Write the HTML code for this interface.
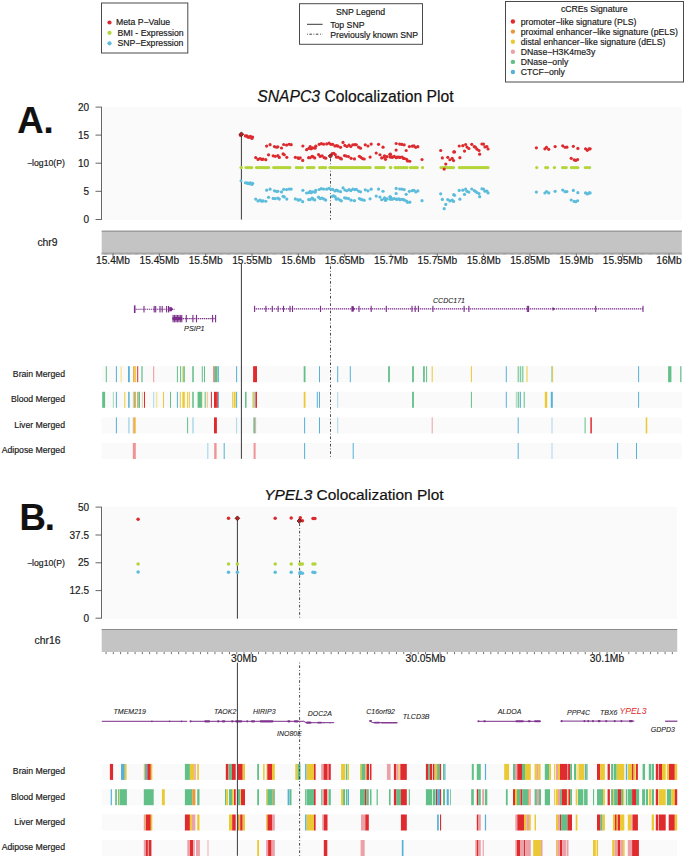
<!DOCTYPE html>
<html><head><meta charset="utf-8"><style>
html,body{margin:0;padding:0;background:#fff;}
svg{display:block;font-family:"Liberation Sans", sans-serif;}
</style></head><body>
<svg width="685" height="857" viewBox="0 0 685 857">
<rect width="685" height="857" fill="#fff"/>
<rect x="101.5" y="3" width="86.3" height="50" fill="none" stroke="#4a4a4a" stroke-width="1"/>
<circle cx="109.50" cy="22.50" r="2.1" fill="#dc2a2e"/>
<text x="116.00" y="24.70" font-size="8.7" text-anchor="start" fill="#1a1a1a" stroke="#1a1a1a" stroke-width="0.18" style="" >Meta P−Value</text>
<circle cx="109.50" cy="32.80" r="2.1" fill="#b4d53a"/>
<text x="117.50" y="36.30" font-size="8.7" text-anchor="start" fill="#1a1a1a" stroke="#1a1a1a" stroke-width="0.18" style="" >BMI - Expression</text>
<circle cx="109.50" cy="43.30" r="2.1" fill="#5cbcdb"/>
<text x="117.50" y="46.40" font-size="8.7" text-anchor="start" fill="#1a1a1a" stroke="#1a1a1a" stroke-width="0.18" style="" >SNP−Expression</text>
<rect x="299.5" y="3.7" width="123" height="40.6" fill="none" stroke="#4a4a4a" stroke-width="1"/>
<text x="360.50" y="14.60" font-size="8.7" text-anchor="middle" fill="#1a1a1a" stroke="#1a1a1a" stroke-width="0.18" style="" >SNP Legend</text>
<line x1="307.00" y1="24.30" x2="322.60" y2="24.30" stroke="#222" stroke-width="0.9" />
<text x="330.20" y="27.50" font-size="8.7" text-anchor="start" fill="#1a1a1a" stroke="#1a1a1a" stroke-width="0.18" style="" >Top SNP</text>
<line x1="307.00" y1="34.20" x2="322.60" y2="34.20" stroke="#222" stroke-width="0.9" stroke-dasharray="0.8 1.6 2.5 1.6"/>
<text x="330.20" y="37.60" font-size="8.7" text-anchor="start" fill="#1a1a1a" stroke="#1a1a1a" stroke-width="0.18" style="" >Previously known SNP</text>
<rect x="505.5" y="1.5" width="178" height="80.5" fill="none" stroke="#4a4a4a" stroke-width="1"/>
<text x="594.20" y="11.70" font-size="8.7" text-anchor="middle" fill="#1a1a1a" stroke="#1a1a1a" stroke-width="0.18" style="" >cCREs Signature</text>
<circle cx="512.90" cy="21.50" r="2.2" fill="#df2a2e"/>
<text x="520.70" y="24.70" font-size="8.7" text-anchor="start" fill="#1a1a1a" stroke="#1a1a1a" stroke-width="0.18" style="" >promoter−like signature (PLS)</text>
<circle cx="512.90" cy="31.60" r="2.2" fill="#e8993a"/>
<text x="520.70" y="34.80" font-size="8.7" text-anchor="start" fill="#1a1a1a" stroke="#1a1a1a" stroke-width="0.18" style="" >proximal enhancer−like signature (pELS)</text>
<circle cx="512.90" cy="41.70" r="2.2" fill="#ebc934"/>
<text x="520.70" y="44.90" font-size="8.7" text-anchor="start" fill="#1a1a1a" stroke="#1a1a1a" stroke-width="0.18" style="" >distal enhancer−like signature (dELS)</text>
<circle cx="512.90" cy="51.80" r="2.2" fill="#eaa2a8"/>
<text x="520.70" y="55.00" font-size="8.7" text-anchor="start" fill="#1a1a1a" stroke="#1a1a1a" stroke-width="0.18" style="" >DNase−H3K4me3y</text>
<circle cx="512.90" cy="61.90" r="2.2" fill="#62bf88"/>
<text x="520.70" y="65.10" font-size="8.7" text-anchor="start" fill="#1a1a1a" stroke="#1a1a1a" stroke-width="0.18" style="" >DNase−only</text>
<circle cx="512.90" cy="72.00" r="2.2" fill="#55b1d9"/>
<text x="520.70" y="75.20" font-size="8.7" text-anchor="start" fill="#1a1a1a" stroke="#1a1a1a" stroke-width="0.18" style="" >CTCF−only</text>
<text x="17.15" y="132.80" font-size="36.5" text-anchor="start" fill="#111" stroke="#111" stroke-width="0.18" style="font-weight:bold;" >A.</text>
<text x="257.3" y="101.7" font-size="15.7" fill="#111" stroke="#111" stroke-width="0.2"><tspan style="font-style:italic">SNAPC3</tspan> Colocalization Plot</text>
<rect x="102.40" y="107.10" width="579.00" height="112.90" fill="#fafafa" />
<line x1="101.50" y1="107.10" x2="101.50" y2="219.50" stroke="#555" stroke-width="0.9" />
<line x1="95.50" y1="107.10" x2="101.90" y2="107.10" stroke="#555" stroke-width="0.9" />
<text x="89.00" y="110.70" font-size="10" text-anchor="end" fill="#1a1a1a" stroke="#1a1a1a" stroke-width="0.18" style="" >20</text>
<line x1="95.50" y1="135.10" x2="101.90" y2="135.10" stroke="#555" stroke-width="0.9" />
<text x="89.00" y="138.70" font-size="10" text-anchor="end" fill="#1a1a1a" stroke="#1a1a1a" stroke-width="0.18" style="" >15</text>
<line x1="95.50" y1="163.20" x2="101.90" y2="163.20" stroke="#555" stroke-width="0.9" />
<text x="89.00" y="166.80" font-size="10" text-anchor="end" fill="#1a1a1a" stroke="#1a1a1a" stroke-width="0.18" style="" >10</text>
<line x1="95.50" y1="191.30" x2="101.90" y2="191.30" stroke="#555" stroke-width="0.9" />
<text x="89.00" y="194.90" font-size="10" text-anchor="end" fill="#1a1a1a" stroke="#1a1a1a" stroke-width="0.18" style="" >5</text>
<line x1="95.50" y1="219.50" x2="101.90" y2="219.50" stroke="#555" stroke-width="0.9" />
<text x="89.00" y="223.10" font-size="10" text-anchor="end" fill="#1a1a1a" stroke="#1a1a1a" stroke-width="0.18" style="" >0</text>
<text x="46.00" y="166.40" font-size="8.7" text-anchor="middle" fill="#1a1a1a" stroke="#1a1a1a" stroke-width="0.18" style="" >−log10(P)</text>
<text x="47.50" y="246.10" font-size="10.4" text-anchor="middle" fill="#1a1a1a" stroke="#1a1a1a" stroke-width="0.18" style="" >chr9</text>
<rect x="101.70" y="230.70" width="580.10" height="22.90" fill="#c4c4c4" />
<line x1="101.70" y1="231.20" x2="681.80" y2="231.20" stroke="#8a8a8a" stroke-width="1" />
<line x1="101.70" y1="253.20" x2="681.80" y2="253.20" stroke="#8c8c8c" stroke-width="0.9" />
<line x1="101.7" y1="254.3" x2="681.8" y2="254.3" stroke="#8a8a8a" stroke-width="1.4" stroke-dasharray="0.55 0.6"/>
<line x1="113.00" y1="253.60" x2="113.00" y2="257.00" stroke="#555" stroke-width="0.8" />
<text x="113.00" y="263.80" font-size="10.2" text-anchor="middle" fill="#1a1a1a" stroke="#1a1a1a" stroke-width="0.18" style="" >15.4Mb</text>
<line x1="159.34" y1="253.60" x2="159.34" y2="257.00" stroke="#555" stroke-width="0.8" />
<text x="159.34" y="263.80" font-size="10.2" text-anchor="middle" fill="#1a1a1a" stroke="#1a1a1a" stroke-width="0.18" style="" >15.45Mb</text>
<line x1="205.67" y1="253.60" x2="205.67" y2="257.00" stroke="#555" stroke-width="0.8" />
<text x="205.67" y="263.80" font-size="10.2" text-anchor="middle" fill="#1a1a1a" stroke="#1a1a1a" stroke-width="0.18" style="" >15.5Mb</text>
<line x1="252.01" y1="253.60" x2="252.01" y2="257.00" stroke="#555" stroke-width="0.8" />
<text x="252.01" y="263.80" font-size="10.2" text-anchor="middle" fill="#1a1a1a" stroke="#1a1a1a" stroke-width="0.18" style="" >15.55Mb</text>
<line x1="298.34" y1="253.60" x2="298.34" y2="257.00" stroke="#555" stroke-width="0.8" />
<text x="298.34" y="263.80" font-size="10.2" text-anchor="middle" fill="#1a1a1a" stroke="#1a1a1a" stroke-width="0.18" style="" >15.6Mb</text>
<line x1="344.68" y1="253.60" x2="344.68" y2="257.00" stroke="#555" stroke-width="0.8" />
<text x="344.68" y="263.80" font-size="10.2" text-anchor="middle" fill="#1a1a1a" stroke="#1a1a1a" stroke-width="0.18" style="" >15.65Mb</text>
<line x1="391.01" y1="253.60" x2="391.01" y2="257.00" stroke="#555" stroke-width="0.8" />
<text x="391.01" y="263.80" font-size="10.2" text-anchor="middle" fill="#1a1a1a" stroke="#1a1a1a" stroke-width="0.18" style="" >15.7Mb</text>
<line x1="437.34" y1="253.60" x2="437.34" y2="257.00" stroke="#555" stroke-width="0.8" />
<text x="437.34" y="263.80" font-size="10.2" text-anchor="middle" fill="#1a1a1a" stroke="#1a1a1a" stroke-width="0.18" style="" >15.75Mb</text>
<line x1="483.68" y1="253.60" x2="483.68" y2="257.00" stroke="#555" stroke-width="0.8" />
<text x="483.68" y="263.80" font-size="10.2" text-anchor="middle" fill="#1a1a1a" stroke="#1a1a1a" stroke-width="0.18" style="" >15.8Mb</text>
<line x1="530.01" y1="253.60" x2="530.01" y2="257.00" stroke="#555" stroke-width="0.8" />
<text x="530.01" y="263.80" font-size="10.2" text-anchor="middle" fill="#1a1a1a" stroke="#1a1a1a" stroke-width="0.18" style="" >15.85Mb</text>
<line x1="576.35" y1="253.60" x2="576.35" y2="257.00" stroke="#555" stroke-width="0.8" />
<text x="576.35" y="263.80" font-size="10.2" text-anchor="middle" fill="#1a1a1a" stroke="#1a1a1a" stroke-width="0.18" style="" >15.9Mb</text>
<line x1="622.69" y1="253.60" x2="622.69" y2="257.00" stroke="#555" stroke-width="0.8" />
<text x="622.69" y="263.80" font-size="10.2" text-anchor="middle" fill="#1a1a1a" stroke="#1a1a1a" stroke-width="0.18" style="" >15.95Mb</text>
<line x1="669.02" y1="253.60" x2="669.02" y2="257.00" stroke="#555" stroke-width="0.8" />
<text x="669.02" y="263.80" font-size="10.2" text-anchor="middle" fill="#1a1a1a" stroke="#1a1a1a" stroke-width="0.18" style="" >16Mb</text>
<text x="19.55" y="529.90" font-size="36.5" text-anchor="start" fill="#111" stroke="#111" stroke-width="0.18" style="font-weight:bold;" letter-spacing="-1.1">B.</text>
<text x="264.2" y="499.8" font-size="15.45" fill="#111" stroke="#111" stroke-width="0.2"><tspan style="font-style:italic">YPEL3</tspan> Colocalization Plot</text>
<rect x="102.40" y="506.80" width="574.60" height="111.90" fill="#fafafa" />
<line x1="101.50" y1="507.10" x2="101.50" y2="618.20" stroke="#555" stroke-width="0.9" />
<line x1="95.50" y1="507.10" x2="101.90" y2="507.10" stroke="#555" stroke-width="0.9" />
<text x="89.00" y="510.70" font-size="10" text-anchor="end" fill="#1a1a1a" stroke="#1a1a1a" stroke-width="0.18" style="" >50</text>
<line x1="95.50" y1="535.00" x2="101.90" y2="535.00" stroke="#555" stroke-width="0.9" />
<text x="89.00" y="538.60" font-size="10" text-anchor="end" fill="#1a1a1a" stroke="#1a1a1a" stroke-width="0.18" style="" >37.5</text>
<line x1="95.50" y1="562.80" x2="101.90" y2="562.80" stroke="#555" stroke-width="0.9" />
<text x="89.00" y="566.40" font-size="10" text-anchor="end" fill="#1a1a1a" stroke="#1a1a1a" stroke-width="0.18" style="" >25</text>
<line x1="95.50" y1="590.60" x2="101.90" y2="590.60" stroke="#555" stroke-width="0.9" />
<text x="89.00" y="594.20" font-size="10" text-anchor="end" fill="#1a1a1a" stroke="#1a1a1a" stroke-width="0.18" style="" >12.5</text>
<line x1="95.50" y1="618.20" x2="101.90" y2="618.20" stroke="#555" stroke-width="0.9" />
<text x="89.00" y="621.80" font-size="10" text-anchor="end" fill="#1a1a1a" stroke="#1a1a1a" stroke-width="0.18" style="" >0</text>
<text x="46.00" y="565.80" font-size="8.7" text-anchor="middle" fill="#1a1a1a" stroke="#1a1a1a" stroke-width="0.18" style="" >−log10(P)</text>
<text x="47.50" y="644.45" font-size="10.4" text-anchor="middle" fill="#1a1a1a" stroke="#1a1a1a" stroke-width="0.18" style="" >chr16</text>
<rect x="101.70" y="629.00" width="575.50" height="23.00" fill="#c4c4c4" />
<line x1="101.70" y1="629.50" x2="677.20" y2="629.50" stroke="#8a8a8a" stroke-width="1" />
<line x1="106.06" y1="652.00" x2="106.06" y2="654.20" stroke="#666" stroke-width="0.9" />
<line x1="113.32" y1="652.00" x2="113.32" y2="654.20" stroke="#666" stroke-width="0.9" />
<line x1="120.58" y1="652.00" x2="120.58" y2="654.20" stroke="#666" stroke-width="0.9" />
<line x1="127.84" y1="652.00" x2="127.84" y2="654.20" stroke="#666" stroke-width="0.9" />
<line x1="135.10" y1="652.00" x2="135.10" y2="654.20" stroke="#666" stroke-width="0.9" />
<line x1="142.36" y1="652.00" x2="142.36" y2="654.20" stroke="#666" stroke-width="0.9" />
<line x1="149.62" y1="652.00" x2="149.62" y2="654.20" stroke="#666" stroke-width="0.9" />
<line x1="156.88" y1="652.00" x2="156.88" y2="654.20" stroke="#666" stroke-width="0.9" />
<line x1="164.14" y1="652.00" x2="164.14" y2="654.20" stroke="#666" stroke-width="0.9" />
<line x1="171.40" y1="652.00" x2="171.40" y2="654.20" stroke="#666" stroke-width="0.9" />
<line x1="178.66" y1="652.00" x2="178.66" y2="654.20" stroke="#666" stroke-width="0.9" />
<line x1="185.92" y1="652.00" x2="185.92" y2="654.20" stroke="#666" stroke-width="0.9" />
<line x1="193.18" y1="652.00" x2="193.18" y2="654.20" stroke="#666" stroke-width="0.9" />
<line x1="200.44" y1="652.00" x2="200.44" y2="654.20" stroke="#666" stroke-width="0.9" />
<line x1="207.70" y1="652.00" x2="207.70" y2="654.20" stroke="#666" stroke-width="0.9" />
<line x1="214.96" y1="652.00" x2="214.96" y2="654.20" stroke="#666" stroke-width="0.9" />
<line x1="222.22" y1="652.00" x2="222.22" y2="654.20" stroke="#666" stroke-width="0.9" />
<line x1="229.48" y1="652.00" x2="229.48" y2="654.20" stroke="#666" stroke-width="0.9" />
<line x1="236.74" y1="652.00" x2="236.74" y2="654.20" stroke="#666" stroke-width="0.9" />
<line x1="244.00" y1="652.00" x2="244.00" y2="654.20" stroke="#666" stroke-width="0.9" />
<line x1="251.26" y1="652.00" x2="251.26" y2="654.20" stroke="#666" stroke-width="0.9" />
<line x1="258.52" y1="652.00" x2="258.52" y2="654.20" stroke="#666" stroke-width="0.9" />
<line x1="265.78" y1="652.00" x2="265.78" y2="654.20" stroke="#666" stroke-width="0.9" />
<line x1="273.04" y1="652.00" x2="273.04" y2="654.20" stroke="#666" stroke-width="0.9" />
<line x1="280.30" y1="652.00" x2="280.30" y2="654.20" stroke="#666" stroke-width="0.9" />
<line x1="287.56" y1="652.00" x2="287.56" y2="654.20" stroke="#666" stroke-width="0.9" />
<line x1="294.82" y1="652.00" x2="294.82" y2="654.20" stroke="#666" stroke-width="0.9" />
<line x1="302.08" y1="652.00" x2="302.08" y2="654.20" stroke="#666" stroke-width="0.9" />
<line x1="309.34" y1="652.00" x2="309.34" y2="654.20" stroke="#666" stroke-width="0.9" />
<line x1="316.60" y1="652.00" x2="316.60" y2="654.20" stroke="#666" stroke-width="0.9" />
<line x1="323.86" y1="652.00" x2="323.86" y2="654.20" stroke="#666" stroke-width="0.9" />
<line x1="331.12" y1="652.00" x2="331.12" y2="654.20" stroke="#666" stroke-width="0.9" />
<line x1="338.38" y1="652.00" x2="338.38" y2="654.20" stroke="#666" stroke-width="0.9" />
<line x1="345.64" y1="652.00" x2="345.64" y2="654.20" stroke="#666" stroke-width="0.9" />
<line x1="352.90" y1="652.00" x2="352.90" y2="654.20" stroke="#666" stroke-width="0.9" />
<line x1="360.16" y1="652.00" x2="360.16" y2="654.20" stroke="#666" stroke-width="0.9" />
<line x1="367.42" y1="652.00" x2="367.42" y2="654.20" stroke="#666" stroke-width="0.9" />
<line x1="374.68" y1="652.00" x2="374.68" y2="654.20" stroke="#666" stroke-width="0.9" />
<line x1="381.94" y1="652.00" x2="381.94" y2="654.20" stroke="#666" stroke-width="0.9" />
<line x1="389.20" y1="652.00" x2="389.20" y2="654.20" stroke="#666" stroke-width="0.9" />
<line x1="396.46" y1="652.00" x2="396.46" y2="654.20" stroke="#666" stroke-width="0.9" />
<line x1="403.72" y1="652.00" x2="403.72" y2="654.20" stroke="#666" stroke-width="0.9" />
<line x1="410.98" y1="652.00" x2="410.98" y2="654.20" stroke="#666" stroke-width="0.9" />
<line x1="418.24" y1="652.00" x2="418.24" y2="654.20" stroke="#666" stroke-width="0.9" />
<line x1="425.50" y1="652.00" x2="425.50" y2="654.20" stroke="#666" stroke-width="0.9" />
<line x1="432.76" y1="652.00" x2="432.76" y2="654.20" stroke="#666" stroke-width="0.9" />
<line x1="440.02" y1="652.00" x2="440.02" y2="654.20" stroke="#666" stroke-width="0.9" />
<line x1="447.28" y1="652.00" x2="447.28" y2="654.20" stroke="#666" stroke-width="0.9" />
<line x1="454.54" y1="652.00" x2="454.54" y2="654.20" stroke="#666" stroke-width="0.9" />
<line x1="461.80" y1="652.00" x2="461.80" y2="654.20" stroke="#666" stroke-width="0.9" />
<line x1="469.06" y1="652.00" x2="469.06" y2="654.20" stroke="#666" stroke-width="0.9" />
<line x1="476.32" y1="652.00" x2="476.32" y2="654.20" stroke="#666" stroke-width="0.9" />
<line x1="483.58" y1="652.00" x2="483.58" y2="654.20" stroke="#666" stroke-width="0.9" />
<line x1="490.84" y1="652.00" x2="490.84" y2="654.20" stroke="#666" stroke-width="0.9" />
<line x1="498.10" y1="652.00" x2="498.10" y2="654.20" stroke="#666" stroke-width="0.9" />
<line x1="505.36" y1="652.00" x2="505.36" y2="654.20" stroke="#666" stroke-width="0.9" />
<line x1="512.62" y1="652.00" x2="512.62" y2="654.20" stroke="#666" stroke-width="0.9" />
<line x1="519.88" y1="652.00" x2="519.88" y2="654.20" stroke="#666" stroke-width="0.9" />
<line x1="527.14" y1="652.00" x2="527.14" y2="654.20" stroke="#666" stroke-width="0.9" />
<line x1="534.40" y1="652.00" x2="534.40" y2="654.20" stroke="#666" stroke-width="0.9" />
<line x1="541.66" y1="652.00" x2="541.66" y2="654.20" stroke="#666" stroke-width="0.9" />
<line x1="548.92" y1="652.00" x2="548.92" y2="654.20" stroke="#666" stroke-width="0.9" />
<line x1="556.18" y1="652.00" x2="556.18" y2="654.20" stroke="#666" stroke-width="0.9" />
<line x1="563.44" y1="652.00" x2="563.44" y2="654.20" stroke="#666" stroke-width="0.9" />
<line x1="570.70" y1="652.00" x2="570.70" y2="654.20" stroke="#666" stroke-width="0.9" />
<line x1="577.96" y1="652.00" x2="577.96" y2="654.20" stroke="#666" stroke-width="0.9" />
<line x1="585.22" y1="652.00" x2="585.22" y2="654.20" stroke="#666" stroke-width="0.9" />
<line x1="592.48" y1="652.00" x2="592.48" y2="654.20" stroke="#666" stroke-width="0.9" />
<line x1="599.74" y1="652.00" x2="599.74" y2="654.20" stroke="#666" stroke-width="0.9" />
<line x1="607.00" y1="652.00" x2="607.00" y2="654.20" stroke="#666" stroke-width="0.9" />
<line x1="614.26" y1="652.00" x2="614.26" y2="654.20" stroke="#666" stroke-width="0.9" />
<line x1="621.52" y1="652.00" x2="621.52" y2="654.20" stroke="#666" stroke-width="0.9" />
<line x1="628.78" y1="652.00" x2="628.78" y2="654.20" stroke="#666" stroke-width="0.9" />
<line x1="636.04" y1="652.00" x2="636.04" y2="654.20" stroke="#666" stroke-width="0.9" />
<line x1="643.30" y1="652.00" x2="643.30" y2="654.20" stroke="#666" stroke-width="0.9" />
<line x1="650.56" y1="652.00" x2="650.56" y2="654.20" stroke="#666" stroke-width="0.9" />
<line x1="657.82" y1="652.00" x2="657.82" y2="654.20" stroke="#666" stroke-width="0.9" />
<line x1="665.08" y1="652.00" x2="665.08" y2="654.20" stroke="#666" stroke-width="0.9" />
<line x1="672.34" y1="652.00" x2="672.34" y2="654.20" stroke="#666" stroke-width="0.9" />
<text x="244.00" y="661.80" font-size="10.3" text-anchor="middle" fill="#1a1a1a" stroke="#1a1a1a" stroke-width="0.18" style="" >30Mb</text>
<text x="425.50" y="661.80" font-size="10.3" text-anchor="middle" fill="#1a1a1a" stroke="#1a1a1a" stroke-width="0.18" style="" >30.05Mb</text>
<text x="607.00" y="661.80" font-size="10.3" text-anchor="middle" fill="#1a1a1a" stroke="#1a1a1a" stroke-width="0.18" style="" >30.1Mb</text>
<rect x="101.60" y="366.20" width="580.20" height="16.00" fill="#fafafa" />
<text x="65.00" y="376.60" font-size="8.7" text-anchor="end" fill="#1a1a1a" stroke="#1a1a1a" stroke-width="0.18" style="" >Brain Merged</text>
<rect x="105.80" y="366.20" width="1.00" height="16.00" fill="#62bf88" />
<rect x="115.90" y="366.20" width="1.00" height="16.00" fill="#55b1d9" />
<rect x="120.50" y="366.20" width="1.40" height="16.00" fill="#f5e499" />
<rect x="128.00" y="366.20" width="1.80" height="16.00" fill="#55b1d9" />
<rect x="133.20" y="366.20" width="1.20" height="16.00" fill="#e8993a" />
<rect x="134.40" y="366.20" width="1.50" height="16.00" fill="#ebc934" />
<rect x="137.20" y="366.20" width="1.00" height="16.00" fill="#df2a2e" />
<rect x="141.40" y="366.20" width="1.20" height="16.00" fill="#62bf88" />
<rect x="153.20" y="366.20" width="1.00" height="16.00" fill="#ef9496" />
<rect x="176.90" y="366.20" width="1.00" height="16.00" fill="#62bf88" />
<rect x="180.10" y="366.20" width="1.00" height="16.00" fill="#62bf88" />
<rect x="182.40" y="366.20" width="0.90" height="16.00" fill="#ebc934" />
<rect x="183.30" y="366.20" width="1.50" height="16.00" fill="#62bf88" />
<rect x="192.25" y="366.20" width="1.50" height="16.00" fill="#62bf88" />
<rect x="201.80" y="366.20" width="1.00" height="16.00" fill="#62bf88" />
<rect x="204.00" y="366.20" width="1.00" height="16.00" fill="#62bf88" />
<rect x="213.50" y="366.20" width="1.00" height="16.00" fill="#df2a2e" />
<rect x="214.60" y="366.20" width="3.00" height="16.00" fill="#62bf88" />
<rect x="217.90" y="366.20" width="1.00" height="16.00" fill="#55b1d9" />
<rect x="236.10" y="366.20" width="1.00" height="16.00" fill="#55b1d9" />
<rect x="253.10" y="366.20" width="3.90" height="16.00" fill="#df2a2e" />
<rect x="303.70" y="366.20" width="1.80" height="16.00" fill="#62bf88" />
<rect x="319.00" y="366.20" width="1.00" height="16.00" fill="#55b1d9" />
<rect x="337.20" y="366.20" width="1.00" height="16.00" fill="#55b1d9" />
<rect x="349.80" y="366.20" width="1.00" height="16.00" fill="#55b1d9" />
<rect x="388.10" y="366.20" width="1.80" height="16.00" fill="#62bf88" />
<rect x="412.10" y="366.20" width="1.80" height="16.00" fill="#62bf88" />
<rect x="423.10" y="366.20" width="1.70" height="16.00" fill="#62bf88" />
<rect x="426.10" y="366.20" width="1.00" height="16.00" fill="#62bf88" />
<rect x="431.70" y="366.20" width="1.00" height="16.00" fill="#ebc934" />
<rect x="470.90" y="366.20" width="1.00" height="16.00" fill="#ebc934" />
<rect x="505.80" y="366.20" width="1.00" height="16.00" fill="#55b1d9" />
<rect x="517.70" y="366.20" width="1.00" height="16.00" fill="#62bf88" />
<rect x="519.80" y="366.20" width="1.00" height="16.00" fill="#62bf88" />
<rect x="521.80" y="366.20" width="1.00" height="16.00" fill="#62bf88" />
<rect x="522.70" y="366.20" width="1.00" height="16.00" fill="#b0dfc3" />
<rect x="526.50" y="366.20" width="1.00" height="16.00" fill="#ebc934" />
<rect x="551.50" y="366.20" width="1.00" height="16.00" fill="#62bf88" />
<rect x="552.30" y="366.20" width="0.80" height="16.00" fill="#ebc934" />
<rect x="638.10" y="366.20" width="1.00" height="16.00" fill="#55b1d9" />
<rect x="668.10" y="366.20" width="3.30" height="16.00" fill="#62bf88" />
<rect x="680.20" y="366.20" width="1.20" height="16.00" fill="#62bf88" />
<rect x="101.60" y="391.80" width="580.20" height="16.00" fill="#fafafa" />
<text x="65.00" y="402.20" font-size="8.7" text-anchor="end" fill="#1a1a1a" stroke="#1a1a1a" stroke-width="0.18" style="" >Blood Merged</text>
<rect x="102.20" y="391.80" width="2.90" height="16.00" fill="#62bf88" />
<rect x="112.80" y="391.80" width="1.20" height="16.00" fill="#b0dfc3" />
<rect x="115.90" y="391.80" width="1.00" height="16.00" fill="#55b1d9" />
<rect x="124.30" y="391.80" width="1.00" height="16.00" fill="#ebc934" />
<rect x="128.15" y="391.80" width="1.50" height="16.00" fill="#55b1d9" />
<rect x="132.80" y="391.80" width="1.00" height="16.00" fill="#f3cc9c" />
<rect x="133.80" y="391.80" width="1.00" height="16.00" fill="#62bf88" />
<rect x="134.80" y="391.80" width="1.00" height="16.00" fill="#e8993a" />
<rect x="137.20" y="391.80" width="1.00" height="16.00" fill="#e8993a" />
<rect x="138.40" y="391.80" width="1.60" height="16.00" fill="#62bf88" />
<rect x="141.80" y="391.80" width="1.00" height="16.00" fill="#f3cc9c" />
<rect x="144.00" y="391.80" width="1.00" height="16.00" fill="#df2a2e" />
<rect x="153.20" y="391.80" width="1.00" height="16.00" fill="#aad8ec" />
<rect x="155.90" y="391.80" width="1.40" height="16.00" fill="#f5e499" />
<rect x="163.00" y="391.80" width="1.00" height="16.00" fill="#ebc934" />
<rect x="170.00" y="391.80" width="1.00" height="16.00" fill="#62bf88" />
<rect x="176.90" y="391.80" width="1.00" height="16.00" fill="#55b1d9" />
<rect x="179.80" y="391.80" width="1.00" height="16.00" fill="#ebc934" />
<rect x="182.40" y="391.80" width="2.40" height="16.00" fill="#ebc934" />
<rect x="187.10" y="391.80" width="1.00" height="16.00" fill="#ebc934" />
<rect x="188.80" y="391.80" width="1.00" height="16.00" fill="#ebc934" />
<rect x="192.25" y="391.80" width="1.50" height="16.00" fill="#62bf88" />
<rect x="197.60" y="391.80" width="4.40" height="16.00" fill="#62bf88" />
<rect x="201.90" y="391.80" width="0.80" height="16.00" fill="#f5e499" />
<rect x="204.70" y="391.80" width="1.00" height="16.00" fill="#62bf88" />
<rect x="206.70" y="391.80" width="1.40" height="16.00" fill="#f3cc9c" />
<rect x="210.90" y="391.80" width="1.00" height="16.00" fill="#df2a2e" />
<rect x="214.00" y="391.80" width="2.90" height="16.00" fill="#df2a2e" />
<rect x="217.10" y="391.80" width="0.80" height="16.00" fill="#df2a2e" />
<rect x="217.90" y="391.80" width="1.00" height="16.00" fill="#55b1d9" />
<rect x="232.20" y="391.80" width="1.00" height="16.00" fill="#ebc934" />
<rect x="233.70" y="391.80" width="1.90" height="16.00" fill="#ebc934" />
<rect x="236.10" y="391.80" width="1.00" height="16.00" fill="#55b1d9" />
<rect x="245.05" y="391.80" width="1.50" height="16.00" fill="#62bf88" />
<rect x="252.40" y="391.80" width="1.00" height="16.00" fill="#ebc934" />
<rect x="253.60" y="391.80" width="1.00" height="16.00" fill="#62bf88" />
<rect x="255.40" y="391.80" width="1.60" height="16.00" fill="#df2a2e" />
<rect x="303.70" y="391.80" width="1.80" height="16.00" fill="#ebc934" />
<rect x="316.80" y="391.80" width="1.00" height="16.00" fill="#55b1d9" />
<rect x="319.00" y="391.80" width="1.00" height="16.00" fill="#55b1d9" />
<rect x="337.20" y="391.80" width="1.00" height="16.00" fill="#aad8ec" />
<rect x="412.10" y="391.80" width="1.80" height="16.00" fill="#62bf88" />
<rect x="470.90" y="391.80" width="1.00" height="16.00" fill="#62bf88" />
<rect x="505.80" y="391.80" width="1.00" height="16.00" fill="#55b1d9" />
<rect x="515.80" y="391.80" width="1.90" height="16.00" fill="#b0dfc3" />
<rect x="518.20" y="391.80" width="1.00" height="16.00" fill="#62bf88" />
<rect x="519.90" y="391.80" width="1.00" height="16.00" fill="#55b1d9" />
<rect x="523.70" y="391.80" width="1.00" height="16.00" fill="#62bf88" />
<rect x="544.80" y="391.80" width="2.40" height="16.00" fill="#ebc934" />
<rect x="550.80" y="391.80" width="2.00" height="16.00" fill="#55b1d9" />
<rect x="638.10" y="391.80" width="1.00" height="16.00" fill="#55b1d9" />
<rect x="101.60" y="417.40" width="580.20" height="16.00" fill="#fafafa" />
<text x="65.00" y="427.80" font-size="8.7" text-anchor="end" fill="#1a1a1a" stroke="#1a1a1a" stroke-width="0.18" style="" >Liver Merged</text>
<rect x="115.90" y="417.40" width="1.00" height="16.00" fill="#55b1d9" />
<rect x="128.15" y="417.40" width="1.50" height="16.00" fill="#aad8ec" />
<rect x="132.80" y="417.40" width="0.70" height="16.00" fill="#eaa2a8" />
<rect x="133.50" y="417.40" width="1.30" height="16.00" fill="#e8993a" />
<rect x="134.80" y="417.40" width="1.00" height="16.00" fill="#ebc934" />
<rect x="187.10" y="417.40" width="1.00" height="16.00" fill="#62bf88" />
<rect x="192.25" y="417.40" width="1.50" height="16.00" fill="#aad8ec" />
<rect x="214.00" y="417.40" width="2.90" height="16.00" fill="#df2a2e" />
<rect x="236.10" y="417.40" width="1.00" height="16.00" fill="#aad8ec" />
<rect x="253.40" y="417.40" width="1.50" height="16.00" fill="#62bf88" />
<rect x="255.10" y="417.40" width="1.00" height="16.00" fill="#eaa2a8" />
<rect x="304.10" y="417.40" width="1.00" height="16.00" fill="#55b1d9" />
<rect x="319.00" y="417.40" width="1.00" height="16.00" fill="#55b1d9" />
<rect x="337.20" y="417.40" width="1.00" height="16.00" fill="#aad8ec" />
<rect x="431.70" y="417.40" width="1.00" height="16.00" fill="#eaa2a8" />
<rect x="517.70" y="417.40" width="1.00" height="16.00" fill="#55b1d9" />
<rect x="551.50" y="417.40" width="1.00" height="16.00" fill="#aad8ec" />
<rect x="584.60" y="417.40" width="1.00" height="16.00" fill="#62bf88" />
<rect x="590.35" y="417.40" width="1.50" height="16.00" fill="#df2a2e" />
<rect x="645.75" y="417.40" width="1.50" height="16.00" fill="#ebc934" />
<rect x="101.60" y="443.00" width="580.20" height="16.00" fill="#fafafa" />
<text x="65.00" y="453.40" font-size="8.7" text-anchor="end" fill="#1a1a1a" stroke="#1a1a1a" stroke-width="0.18" style="" >Adipose Merged</text>
<rect x="132.80" y="443.00" width="3.00" height="16.00" fill="#ef9496" />
<rect x="207.20" y="443.00" width="1.20" height="16.00" fill="#aad8ec" />
<rect x="214.20" y="443.00" width="2.40" height="16.00" fill="#ef9496" />
<rect x="223.70" y="443.00" width="1.00" height="16.00" fill="#55b1d9" />
<rect x="253.60" y="443.00" width="2.00" height="16.00" fill="#ef9496" />
<rect x="304.10" y="443.00" width="1.00" height="16.00" fill="#55b1d9" />
<rect x="352.70" y="443.00" width="1.00" height="16.00" fill="#55b1d9" />
<rect x="517.70" y="443.00" width="1.00" height="16.00" fill="#55b1d9" />
<rect x="551.50" y="443.00" width="1.00" height="16.00" fill="#aad8ec" />
<rect x="617.10" y="443.00" width="1.00" height="16.00" fill="#55b1d9" />
<rect x="636.00" y="443.00" width="1.00" height="16.00" fill="#55b1d9" />
<rect x="101.75" y="763.90" width="575.55" height="16.00" fill="#fafafa" />
<text x="65.00" y="774.30" font-size="8.7" text-anchor="end" fill="#1a1a1a" stroke="#1a1a1a" stroke-width="0.18" style="" >Brain Merged</text>
<rect x="109.90" y="763.90" width="3.20" height="16.00" fill="#df2a2e" />
<rect x="121.00" y="763.90" width="3.80" height="16.00" fill="#55b1d9" />
<rect x="124.80" y="763.90" width="1.80" height="16.00" fill="#ebc934" />
<rect x="143.80" y="763.90" width="1.20" height="16.00" fill="#ebc934" />
<rect x="145.00" y="763.90" width="2.30" height="16.00" fill="#55b1d9" />
<rect x="147.30" y="763.90" width="3.50" height="16.00" fill="#df2a2e" />
<rect x="150.80" y="763.90" width="1.50" height="16.00" fill="#ebc934" />
<rect x="184.90" y="763.90" width="5.00" height="16.00" fill="#62bf88" />
<rect x="189.90" y="763.90" width="4.40" height="16.00" fill="#ebc934" />
<rect x="194.30" y="763.90" width="1.50" height="16.00" fill="#eaa2a8" />
<rect x="197.20" y="763.90" width="1.70" height="16.00" fill="#ebc934" />
<rect x="225.80" y="763.90" width="2.70" height="16.00" fill="#df2a2e" />
<rect x="229.00" y="763.90" width="3.00" height="16.00" fill="#62bf88" />
<rect x="232.00" y="763.90" width="3.70" height="16.00" fill="#df2a2e" />
<rect x="238.00" y="763.90" width="4.70" height="16.00" fill="#df2a2e" />
<rect x="242.70" y="763.90" width="2.30" height="16.00" fill="#ebc934" />
<rect x="257.20" y="763.90" width="1.80" height="16.00" fill="#62bf88" />
<rect x="263.10" y="763.90" width="1.50" height="16.00" fill="#ebc934" />
<rect x="266.50" y="763.90" width="0.80" height="16.00" fill="#ebc934" />
<rect x="267.30" y="763.90" width="4.70" height="16.00" fill="#df2a2e" />
<rect x="272.00" y="763.90" width="2.80" height="16.00" fill="#ebc934" />
<rect x="295.30" y="763.90" width="2.30" height="16.00" fill="#ebc934" />
<rect x="297.60" y="763.90" width="2.90" height="16.00" fill="#62bf88" />
<rect x="305.10" y="763.90" width="1.50" height="16.00" fill="#55b1d9" />
<rect x="306.60" y="763.90" width="7.40" height="16.00" fill="#ebc934" />
<rect x="314.00" y="763.90" width="1.60" height="16.00" fill="#df2a2e" />
<rect x="321.20" y="763.90" width="2.40" height="16.00" fill="#eaa2a8" />
<rect x="323.60" y="763.90" width="4.10" height="16.00" fill="#df2a2e" />
<rect x="327.70" y="763.90" width="0.80" height="16.00" fill="#eaa2a8" />
<rect x="328.50" y="763.90" width="2.30" height="16.00" fill="#df2a2e" />
<rect x="341.10" y="763.90" width="4.00" height="16.00" fill="#ebc934" />
<rect x="345.80" y="763.90" width="1.60" height="16.00" fill="#62bf88" />
<rect x="347.80" y="763.90" width="1.20" height="16.00" fill="#ebc934" />
<rect x="360.00" y="763.90" width="1.40" height="16.00" fill="#ebc934" />
<rect x="361.40" y="763.90" width="3.90" height="16.00" fill="#62bf88" />
<rect x="365.50" y="763.90" width="1.30" height="16.00" fill="#e8993a" />
<rect x="366.80" y="763.90" width="2.30" height="16.00" fill="#df2a2e" />
<rect x="370.00" y="763.90" width="1.50" height="16.00" fill="#df2a2e" />
<rect x="386.90" y="763.90" width="3.70" height="16.00" fill="#eaa2a8" />
<rect x="393.90" y="763.90" width="2.30" height="16.00" fill="#df2a2e" />
<rect x="396.20" y="763.90" width="2.40" height="16.00" fill="#eaa2a8" />
<rect x="398.80" y="763.90" width="0.90" height="16.00" fill="#ebc934" />
<rect x="400.30" y="763.90" width="6.50" height="16.00" fill="#df2a2e" />
<rect x="425.90" y="763.90" width="2.10" height="16.00" fill="#df2a2e" />
<rect x="428.00" y="763.90" width="1.80" height="16.00" fill="#62bf88" />
<rect x="429.80" y="763.90" width="2.30" height="16.00" fill="#df2a2e" />
<rect x="432.90" y="763.90" width="1.60" height="16.00" fill="#df2a2e" />
<rect x="434.80" y="763.90" width="2.30" height="16.00" fill="#ebc934" />
<rect x="437.10" y="763.90" width="2.60" height="16.00" fill="#62bf88" />
<rect x="439.70" y="763.90" width="1.40" height="16.00" fill="#df2a2e" />
<rect x="443.00" y="763.90" width="1.60" height="16.00" fill="#62bf88" />
<rect x="444.60" y="763.90" width="0.90" height="16.00" fill="#55b1d9" />
<rect x="471.80" y="763.90" width="2.00" height="16.00" fill="#62bf88" />
<rect x="476.80" y="763.90" width="4.00" height="16.00" fill="#62bf88" />
<rect x="484.90" y="763.90" width="1.20" height="16.00" fill="#55b1d9" />
<rect x="504.20" y="763.90" width="4.90" height="16.00" fill="#ebc934" />
<rect x="513.00" y="763.90" width="2.00" height="16.00" fill="#62bf88" />
<rect x="515.00" y="763.90" width="2.30" height="16.00" fill="#eaa2a8" />
<rect x="517.30" y="763.90" width="4.70" height="16.00" fill="#df2a2e" />
<rect x="522.00" y="763.90" width="3.00" height="16.00" fill="#62bf88" />
<rect x="525.00" y="763.90" width="5.80" height="16.00" fill="#ebc934" />
<rect x="534.60" y="763.90" width="2.30" height="16.00" fill="#ebc934" />
<rect x="536.90" y="763.90" width="1.70" height="16.00" fill="#eaa2a8" />
<rect x="538.60" y="763.90" width="2.00" height="16.00" fill="#ebc934" />
<rect x="544.80" y="763.90" width="4.40" height="16.00" fill="#62bf88" />
<rect x="549.20" y="763.90" width="1.80" height="16.00" fill="#ebc934" />
<rect x="554.10" y="763.90" width="1.20" height="16.00" fill="#ebc934" />
<rect x="556.00" y="763.90" width="2.00" height="16.00" fill="#eaa2a8" />
<rect x="558.00" y="763.90" width="2.00" height="16.00" fill="#ebc934" />
<rect x="560.00" y="763.90" width="7.50" height="16.00" fill="#df2a2e" />
<rect x="568.10" y="763.90" width="2.00" height="16.00" fill="#df2a2e" />
<rect x="570.10" y="763.90" width="1.90" height="16.00" fill="#62bf88" />
<rect x="574.00" y="763.90" width="2.00" height="16.00" fill="#62bf88" />
<rect x="576.00" y="763.90" width="2.60" height="16.00" fill="#f5e499" />
<rect x="578.60" y="763.90" width="5.90" height="16.00" fill="#ebc934" />
<rect x="585.00" y="763.90" width="1.20" height="16.00" fill="#55b1d9" />
<rect x="586.20" y="763.90" width="1.40" height="16.00" fill="#62bf88" />
<rect x="597.00" y="763.90" width="3.20" height="16.00" fill="#df2a2e" />
<rect x="600.20" y="763.90" width="4.70" height="16.00" fill="#ebc934" />
<rect x="607.60" y="763.90" width="2.30" height="16.00" fill="#df2a2e" />
<rect x="611.10" y="763.90" width="2.10" height="16.00" fill="#62bf88" />
<rect x="613.80" y="763.90" width="2.90" height="16.00" fill="#62bf88" />
<rect x="616.70" y="763.90" width="7.60" height="16.00" fill="#ebc934" />
<rect x="625.80" y="763.90" width="1.40" height="16.00" fill="#55b1d9" />
<rect x="627.80" y="763.90" width="4.10" height="16.00" fill="#ebc934" />
<rect x="631.90" y="763.90" width="1.70" height="16.00" fill="#df2a2e" />
<rect x="633.60" y="763.90" width="2.00" height="16.00" fill="#ebc934" />
<rect x="636.00" y="763.90" width="1.90" height="16.00" fill="#df2a2e" />
<rect x="642.60" y="763.90" width="2.40" height="16.00" fill="#62bf88" />
<rect x="648.80" y="763.90" width="2.30" height="16.00" fill="#62bf88" />
<rect x="651.70" y="763.90" width="2.30" height="16.00" fill="#62bf88" />
<rect x="655.80" y="763.90" width="2.30" height="16.00" fill="#df2a2e" />
<rect x="658.70" y="763.90" width="3.30" height="16.00" fill="#df2a2e" />
<rect x="662.00" y="763.90" width="3.70" height="16.00" fill="#ebc934" />
<rect x="666.90" y="763.90" width="2.10" height="16.00" fill="#ebc934" />
<rect x="669.00" y="763.90" width="5.80" height="16.00" fill="#df2a2e" />
<rect x="674.80" y="763.90" width="2.40" height="16.00" fill="#ebc934" />
<rect x="101.75" y="789.20" width="575.55" height="16.00" fill="#fafafa" />
<text x="65.00" y="799.60" font-size="8.7" text-anchor="end" fill="#1a1a1a" stroke="#1a1a1a" stroke-width="0.18" style="" >Blood Merged</text>
<rect x="110.70" y="789.20" width="1.20" height="16.00" fill="#55b1d9" />
<rect x="115.20" y="789.20" width="1.70" height="16.00" fill="#62bf88" />
<rect x="118.10" y="789.20" width="1.20" height="16.00" fill="#62bf88" />
<rect x="119.30" y="789.20" width="0.60" height="16.00" fill="#ebc934" />
<rect x="119.90" y="789.20" width="7.00" height="16.00" fill="#62bf88" />
<rect x="143.80" y="789.20" width="9.90" height="16.00" fill="#62bf88" />
<rect x="161.90" y="789.20" width="2.90" height="16.00" fill="#ebc934" />
<rect x="184.90" y="789.20" width="7.40" height="16.00" fill="#62bf88" />
<rect x="192.30" y="789.20" width="3.10" height="16.00" fill="#e8993a" />
<rect x="197.20" y="789.20" width="2.30" height="16.00" fill="#62bf88" />
<rect x="225.00" y="789.20" width="1.20" height="16.00" fill="#62bf88" />
<rect x="226.20" y="789.20" width="1.90" height="16.00" fill="#ebc934" />
<rect x="229.00" y="789.20" width="3.00" height="16.00" fill="#62bf88" />
<rect x="232.00" y="789.20" width="1.60" height="16.00" fill="#ebc934" />
<rect x="234.00" y="789.20" width="1.70" height="16.00" fill="#df2a2e" />
<rect x="237.50" y="789.20" width="2.90" height="16.00" fill="#62bf88" />
<rect x="240.40" y="789.20" width="0.60" height="16.00" fill="#ebc934" />
<rect x="241.00" y="789.20" width="4.00" height="16.00" fill="#df2a2e" />
<rect x="257.20" y="789.20" width="1.80" height="16.00" fill="#62bf88" />
<rect x="266.10" y="789.20" width="1.20" height="16.00" fill="#ebc934" />
<rect x="267.30" y="789.20" width="4.90" height="16.00" fill="#62bf88" />
<rect x="272.20" y="789.20" width="0.90" height="16.00" fill="#e8993a" />
<rect x="273.10" y="789.20" width="1.70" height="16.00" fill="#62bf88" />
<rect x="287.60" y="789.20" width="1.90" height="16.00" fill="#55b1d9" />
<rect x="289.70" y="789.20" width="1.80" height="16.00" fill="#62bf88" />
<rect x="305.10" y="789.20" width="1.50" height="16.00" fill="#62bf88" />
<rect x="307.00" y="789.20" width="7.00" height="16.00" fill="#62bf88" />
<rect x="314.00" y="789.20" width="1.60" height="16.00" fill="#df2a2e" />
<rect x="321.20" y="789.20" width="1.20" height="16.00" fill="#62bf88" />
<rect x="322.40" y="789.20" width="1.40" height="16.00" fill="#eaa2a8" />
<rect x="323.80" y="789.20" width="3.50" height="16.00" fill="#df2a2e" />
<rect x="328.50" y="789.20" width="2.30" height="16.00" fill="#62bf88" />
<rect x="341.10" y="789.20" width="2.00" height="16.00" fill="#ebc934" />
<rect x="343.10" y="789.20" width="2.00" height="16.00" fill="#62bf88" />
<rect x="346.00" y="789.20" width="1.40" height="16.00" fill="#62bf88" />
<rect x="347.80" y="789.20" width="1.20" height="16.00" fill="#55b1d9" />
<rect x="360.00" y="789.20" width="5.00" height="16.00" fill="#62bf88" />
<rect x="365.00" y="789.20" width="1.50" height="16.00" fill="#df2a2e" />
<rect x="366.80" y="789.20" width="2.00" height="16.00" fill="#62bf88" />
<rect x="370.00" y="789.20" width="1.50" height="16.00" fill="#62bf88" />
<rect x="376.60" y="789.20" width="1.20" height="16.00" fill="#62bf88" />
<rect x="389.00" y="789.20" width="1.60" height="16.00" fill="#62bf88" />
<rect x="393.90" y="789.20" width="2.60" height="16.00" fill="#df2a2e" />
<rect x="396.50" y="789.20" width="4.40" height="16.00" fill="#62bf88" />
<rect x="400.90" y="789.20" width="5.90" height="16.00" fill="#df2a2e" />
<rect x="408.80" y="789.20" width="1.10" height="16.00" fill="#62bf88" />
<rect x="425.90" y="789.20" width="6.20" height="16.00" fill="#62bf88" />
<rect x="432.90" y="789.20" width="2.70" height="16.00" fill="#62bf88" />
<rect x="436.00" y="789.20" width="1.10" height="16.00" fill="#df2a2e" />
<rect x="437.10" y="789.20" width="2.90" height="16.00" fill="#55b1d9" />
<rect x="440.00" y="789.20" width="1.10" height="16.00" fill="#df2a2e" />
<rect x="443.00" y="789.20" width="2.00" height="16.00" fill="#62bf88" />
<rect x="446.70" y="789.20" width="2.10" height="16.00" fill="#55b1d9" />
<rect x="450.00" y="789.20" width="0.80" height="16.00" fill="#62bf88" />
<rect x="471.20" y="789.20" width="2.60" height="16.00" fill="#62bf88" />
<rect x="476.80" y="789.20" width="1.50" height="16.00" fill="#df2a2e" />
<rect x="478.30" y="789.20" width="2.50" height="16.00" fill="#62bf88" />
<rect x="482.20" y="789.20" width="1.90" height="16.00" fill="#eaa2a8" />
<rect x="484.90" y="789.20" width="2.40" height="16.00" fill="#62bf88" />
<rect x="505.90" y="789.20" width="1.80" height="16.00" fill="#62bf88" />
<rect x="513.00" y="789.20" width="2.00" height="16.00" fill="#df2a2e" />
<rect x="515.00" y="789.20" width="2.00" height="16.00" fill="#ebc934" />
<rect x="517.00" y="789.20" width="3.50" height="16.00" fill="#62bf88" />
<rect x="520.50" y="789.20" width="1.80" height="16.00" fill="#df2a2e" />
<rect x="522.30" y="789.20" width="5.80" height="16.00" fill="#62bf88" />
<rect x="528.10" y="789.20" width="1.20" height="16.00" fill="#e8993a" />
<rect x="529.30" y="789.20" width="1.50" height="16.00" fill="#eaa2a8" />
<rect x="534.60" y="789.20" width="2.30" height="16.00" fill="#62bf88" />
<rect x="536.90" y="789.20" width="2.10" height="16.00" fill="#eaa2a8" />
<rect x="539.00" y="789.20" width="2.00" height="16.00" fill="#62bf88" />
<rect x="544.80" y="789.20" width="5.20" height="16.00" fill="#62bf88" />
<rect x="554.10" y="789.20" width="1.20" height="16.00" fill="#ebc934" />
<rect x="556.00" y="789.20" width="2.00" height="16.00" fill="#ebc934" />
<rect x="558.00" y="789.20" width="2.00" height="16.00" fill="#eaa2a8" />
<rect x="560.00" y="789.20" width="1.70" height="16.00" fill="#62bf88" />
<rect x="561.70" y="789.20" width="5.20" height="16.00" fill="#df2a2e" />
<rect x="567.50" y="789.20" width="1.00" height="16.00" fill="#ebc934" />
<rect x="568.50" y="789.20" width="1.60" height="16.00" fill="#df2a2e" />
<rect x="570.10" y="789.20" width="1.90" height="16.00" fill="#62bf88" />
<rect x="575.70" y="789.20" width="1.70" height="16.00" fill="#ebc934" />
<rect x="578.00" y="789.20" width="5.30" height="16.00" fill="#62bf88" />
<rect x="584.10" y="789.20" width="3.50" height="16.00" fill="#62bf88" />
<rect x="593.00" y="789.20" width="1.10" height="16.00" fill="#62bf88" />
<rect x="597.00" y="789.20" width="6.10" height="16.00" fill="#62bf88" />
<rect x="603.10" y="789.20" width="1.80" height="16.00" fill="#ebc934" />
<rect x="607.60" y="789.20" width="2.30" height="16.00" fill="#df2a2e" />
<rect x="611.10" y="789.20" width="2.10" height="16.00" fill="#62bf88" />
<rect x="613.20" y="789.20" width="0.90" height="16.00" fill="#ebc934" />
<rect x="614.10" y="789.20" width="3.70" height="16.00" fill="#62bf88" />
<rect x="617.80" y="789.20" width="3.30" height="16.00" fill="#df2a2e" />
<rect x="621.10" y="789.20" width="2.00" height="16.00" fill="#62bf88" />
<rect x="623.10" y="789.20" width="1.20" height="16.00" fill="#ebc934" />
<rect x="625.80" y="789.20" width="1.40" height="16.00" fill="#62bf88" />
<rect x="627.80" y="789.20" width="4.30" height="16.00" fill="#62bf88" />
<rect x="632.10" y="789.20" width="3.90" height="16.00" fill="#df2a2e" />
<rect x="636.00" y="789.20" width="3.10" height="16.00" fill="#62bf88" />
<rect x="642.10" y="789.20" width="2.90" height="16.00" fill="#62bf88" />
<rect x="645.90" y="789.20" width="2.10" height="16.00" fill="#62bf88" />
<rect x="648.80" y="789.20" width="2.30" height="16.00" fill="#ebc934" />
<rect x="651.70" y="789.20" width="2.30" height="16.00" fill="#62bf88" />
<rect x="655.80" y="789.20" width="2.30" height="16.00" fill="#df2a2e" />
<rect x="658.70" y="789.20" width="7.00" height="16.00" fill="#ebc934" />
<rect x="666.90" y="789.20" width="4.40" height="16.00" fill="#62bf88" />
<rect x="671.30" y="789.20" width="3.50" height="16.00" fill="#ebc934" />
<rect x="674.80" y="789.20" width="2.40" height="16.00" fill="#df2a2e" />
<rect x="101.75" y="814.50" width="575.55" height="16.00" fill="#fafafa" />
<text x="65.00" y="824.90" font-size="8.7" text-anchor="end" fill="#1a1a1a" stroke="#1a1a1a" stroke-width="0.18" style="" >Liver Merged</text>
<rect x="143.80" y="814.50" width="1.20" height="16.00" fill="#eaa2a8" />
<rect x="145.00" y="814.50" width="0.80" height="16.00" fill="#ebc934" />
<rect x="145.80" y="814.50" width="5.00" height="16.00" fill="#df2a2e" />
<rect x="150.80" y="814.50" width="1.50" height="16.00" fill="#ebc934" />
<rect x="184.90" y="814.50" width="5.00" height="16.00" fill="#df2a2e" />
<rect x="189.90" y="814.50" width="2.00" height="16.00" fill="#ebc934" />
<rect x="191.90" y="814.50" width="3.50" height="16.00" fill="#eaa2a8" />
<rect x="197.20" y="814.50" width="2.30" height="16.00" fill="#ebc934" />
<rect x="229.00" y="814.50" width="3.20" height="16.00" fill="#ebc934" />
<rect x="232.20" y="814.50" width="3.50" height="16.00" fill="#df2a2e" />
<rect x="237.50" y="814.50" width="1.20" height="16.00" fill="#df2a2e" />
<rect x="238.70" y="814.50" width="1.50" height="16.00" fill="#ebc934" />
<rect x="240.20" y="814.50" width="2.50" height="16.00" fill="#df2a2e" />
<rect x="242.70" y="814.50" width="2.30" height="16.00" fill="#ebc934" />
<rect x="266.10" y="814.50" width="1.40" height="16.00" fill="#ebc934" />
<rect x="267.50" y="814.50" width="4.50" height="16.00" fill="#df2a2e" />
<rect x="272.00" y="814.50" width="2.80" height="16.00" fill="#eaa2a8" />
<rect x="305.10" y="814.50" width="1.50" height="16.00" fill="#55b1d9" />
<rect x="306.60" y="814.50" width="7.40" height="16.00" fill="#ebc934" />
<rect x="314.00" y="814.50" width="1.60" height="16.00" fill="#df2a2e" />
<rect x="322.20" y="814.50" width="1.60" height="16.00" fill="#eaa2a8" />
<rect x="323.80" y="814.50" width="3.70" height="16.00" fill="#df2a2e" />
<rect x="361.00" y="814.50" width="4.30" height="16.00" fill="#eaa2a8" />
<rect x="365.30" y="814.50" width="3.50" height="16.00" fill="#df2a2e" />
<rect x="400.90" y="814.50" width="5.90" height="16.00" fill="#df2a2e" />
<rect x="437.10" y="814.50" width="1.70" height="16.00" fill="#55b1d9" />
<rect x="440.00" y="814.50" width="1.10" height="16.00" fill="#df2a2e" />
<rect x="476.80" y="814.50" width="1.70" height="16.00" fill="#df2a2e" />
<rect x="478.50" y="814.50" width="2.30" height="16.00" fill="#eaa2a8" />
<rect x="484.90" y="814.50" width="1.20" height="16.00" fill="#55b1d9" />
<rect x="515.30" y="814.50" width="2.00" height="16.00" fill="#eaa2a8" />
<rect x="517.30" y="814.50" width="6.70" height="16.00" fill="#df2a2e" />
<rect x="524.00" y="814.50" width="2.40" height="16.00" fill="#ebc934" />
<rect x="526.40" y="814.50" width="2.60" height="16.00" fill="#eaa2a8" />
<rect x="529.00" y="814.50" width="1.80" height="16.00" fill="#ebc934" />
<rect x="534.60" y="814.50" width="1.40" height="16.00" fill="#ebc934" />
<rect x="556.00" y="814.50" width="2.00" height="16.00" fill="#ebc934" />
<rect x="558.00" y="814.50" width="2.00" height="16.00" fill="#eaa2a8" />
<rect x="560.00" y="814.50" width="1.10" height="16.00" fill="#df2a2e" />
<rect x="561.10" y="814.50" width="6.40" height="16.00" fill="#62bf88" />
<rect x="567.50" y="814.50" width="4.50" height="16.00" fill="#df2a2e" />
<rect x="575.70" y="814.50" width="1.70" height="16.00" fill="#ebc934" />
<rect x="597.00" y="814.50" width="3.50" height="16.00" fill="#df2a2e" />
<rect x="600.50" y="814.50" width="2.10" height="16.00" fill="#62bf88" />
<rect x="602.60" y="814.50" width="2.30" height="16.00" fill="#ebc934" />
<rect x="612.90" y="814.50" width="2.00" height="16.00" fill="#ebc934" />
<rect x="614.90" y="814.50" width="1.80" height="16.00" fill="#df2a2e" />
<rect x="616.70" y="814.50" width="1.10" height="16.00" fill="#ebc934" />
<rect x="617.80" y="814.50" width="2.20" height="16.00" fill="#df2a2e" />
<rect x="620.00" y="814.50" width="4.30" height="16.00" fill="#ebc934" />
<rect x="627.80" y="814.50" width="3.50" height="16.00" fill="#ebc934" />
<rect x="631.30" y="814.50" width="1.20" height="16.00" fill="#eaa2a8" />
<rect x="632.50" y="814.50" width="5.40" height="16.00" fill="#df2a2e" />
<rect x="651.70" y="814.50" width="2.30" height="16.00" fill="#ebc934" />
<rect x="655.80" y="814.50" width="2.30" height="16.00" fill="#df2a2e" />
<rect x="658.70" y="814.50" width="7.00" height="16.00" fill="#df2a2e" />
<rect x="668.70" y="814.50" width="6.10" height="16.00" fill="#df2a2e" />
<rect x="674.80" y="814.50" width="2.40" height="16.00" fill="#ebc934" />
<rect x="101.75" y="840.00" width="575.55" height="16.00" fill="#fafafa" />
<text x="65.00" y="850.40" font-size="8.7" text-anchor="end" fill="#1a1a1a" stroke="#1a1a1a" stroke-width="0.18" style="" >Adipose Merged</text>
<rect x="143.80" y="840.00" width="2.00" height="16.00" fill="#eaa2a8" />
<rect x="145.80" y="840.00" width="2.10" height="16.00" fill="#df2a2e" />
<rect x="147.90" y="840.00" width="0.90" height="16.00" fill="#eaa2a8" />
<rect x="148.80" y="840.00" width="2.60" height="16.00" fill="#df2a2e" />
<rect x="151.40" y="840.00" width="0.60" height="16.00" fill="#eaa2a8" />
<rect x="187.30" y="840.00" width="2.70" height="16.00" fill="#eaa2a8" />
<rect x="190.00" y="840.00" width="3.10" height="16.00" fill="#df2a2e" />
<rect x="193.10" y="840.00" width="1.70" height="16.00" fill="#eaa2a8" />
<rect x="196.00" y="840.00" width="3.90" height="16.00" fill="#eaa2a8" />
<rect x="207.10" y="840.00" width="1.80" height="16.00" fill="#f4d0d3" />
<rect x="257.20" y="840.00" width="1.80" height="16.00" fill="#ebc934" />
<rect x="266.10" y="840.00" width="2.00" height="16.00" fill="#eaa2a8" />
<rect x="268.10" y="840.00" width="3.50" height="16.00" fill="#df2a2e" />
<rect x="271.60" y="840.00" width="3.20" height="16.00" fill="#eaa2a8" />
<rect x="323.80" y="840.00" width="3.50" height="16.00" fill="#df2a2e" />
<rect x="360.60" y="840.00" width="4.10" height="16.00" fill="#eaa2a8" />
<rect x="401.80" y="840.00" width="1.70" height="16.00" fill="#55b1d9" />
<rect x="475.30" y="840.00" width="1.50" height="16.00" fill="#eaa2a8" />
<rect x="476.80" y="840.00" width="1.70" height="16.00" fill="#df2a2e" />
<rect x="478.50" y="840.00" width="2.30" height="16.00" fill="#eaa2a8" />
<rect x="482.60" y="840.00" width="1.20" height="16.00" fill="#eaa2a8" />
<rect x="515.30" y="840.00" width="1.50" height="16.00" fill="#eaa2a8" />
<rect x="516.80" y="840.00" width="3.20" height="16.00" fill="#df2a2e" />
<rect x="520.00" y="840.00" width="4.00" height="16.00" fill="#eaa2a8" />
<rect x="524.00" y="840.00" width="1.20" height="16.00" fill="#df2a2e" />
<rect x="525.20" y="840.00" width="5.60" height="16.00" fill="#eaa2a8" />
<rect x="533.20" y="840.00" width="7.80" height="16.00" fill="#ebc934" />
<rect x="541.00" y="840.00" width="1.50" height="16.00" fill="#eaa2a8" />
<rect x="556.00" y="840.00" width="1.20" height="16.00" fill="#ebc934" />
<rect x="557.20" y="840.00" width="2.80" height="16.00" fill="#eaa2a8" />
<rect x="560.00" y="840.00" width="2.30" height="16.00" fill="#df2a2e" />
<rect x="562.30" y="840.00" width="4.10" height="16.00" fill="#eaa2a8" />
<rect x="566.90" y="840.00" width="1.60" height="16.00" fill="#eaa2a8" />
<rect x="593.00" y="840.00" width="2.80" height="16.00" fill="#ebc934" />
<rect x="596.50" y="840.00" width="1.60" height="16.00" fill="#ebc934" />
<rect x="612.20" y="840.00" width="2.40" height="16.00" fill="#ebc934" />
<rect x="614.60" y="840.00" width="3.20" height="16.00" fill="#eaa2a8" />
<rect x="617.80" y="840.00" width="2.40" height="16.00" fill="#df2a2e" />
<rect x="620.20" y="840.00" width="2.90" height="16.00" fill="#eaa2a8" />
<rect x="623.10" y="840.00" width="1.50" height="16.00" fill="#ebc934" />
<rect x="627.80" y="840.00" width="4.30" height="16.00" fill="#eaa2a8" />
<rect x="632.10" y="840.00" width="6.80" height="16.00" fill="#df2a2e" />
<line x1="134.00" y1="309.20" x2="174.60" y2="309.20" stroke="#7a2e89" stroke-width="1.1" stroke-dasharray="1.4 0.7"/>
<rect x="143.45" y="305.95" width="1.10" height="6.50" fill="#7a2e89" />
<rect x="153.65" y="305.95" width="1.10" height="6.50" fill="#7a2e89" />
<rect x="155.15" y="305.95" width="1.10" height="6.50" fill="#7a2e89" />
<rect x="159.45" y="305.95" width="1.10" height="6.50" fill="#7a2e89" />
<rect x="161.65" y="305.95" width="1.10" height="6.50" fill="#7a2e89" />
<rect x="166.05" y="305.95" width="1.10" height="6.50" fill="#7a2e89" />
<rect x="133.90" y="305.40" width="1.60" height="7.60" fill="#7a2e89" />
<rect x="168.00" y="305.95" width="1.20" height="6.50" fill="#7a2e89" />
<rect x="169.25" y="307.20" width="2.50" height="4.00" fill="#7a2e89" />
<path d="M170.80 306.86 L173.40 309.20 L170.80 311.54 Z" fill="#7a2e89"/>
<line x1="172.40" y1="318.60" x2="216.20" y2="318.60" stroke="#7a2e89" stroke-width="1.1" stroke-dasharray="1.4 0.7"/>
<rect x="172.60" y="317.00" width="9.50" height="3.20" fill="#7a2e89" />
<rect x="172.55" y="314.90" width="1.10" height="7.40" fill="#7a2e89" />
<rect x="174.05" y="314.90" width="1.10" height="7.40" fill="#7a2e89" />
<rect x="175.45" y="314.90" width="1.10" height="7.40" fill="#7a2e89" />
<rect x="176.85" y="314.90" width="1.10" height="7.40" fill="#7a2e89" />
<rect x="178.35" y="314.90" width="1.10" height="7.40" fill="#7a2e89" />
<rect x="179.75" y="314.90" width="1.10" height="7.40" fill="#7a2e89" />
<rect x="181.25" y="314.90" width="1.10" height="7.40" fill="#7a2e89" />
<rect x="185.75" y="314.90" width="1.10" height="7.40" fill="#7a2e89" />
<rect x="192.35" y="314.90" width="1.10" height="7.40" fill="#7a2e89" />
<rect x="195.95" y="314.90" width="1.10" height="7.40" fill="#7a2e89" />
<rect x="212.05" y="314.90" width="1.10" height="7.40" fill="#7a2e89" />
<rect x="215.05" y="314.90" width="1.10" height="7.40" fill="#7a2e89" />
<text x="194.30" y="330.80" font-size="7.2" text-anchor="middle" fill="#222" stroke="#222" stroke-width="0.08" style="font-style:italic;" >PSIP1</text>
<line x1="254.00" y1="308.90" x2="643.00" y2="308.90" stroke="#7a2e89" stroke-width="1.1" stroke-dasharray="1.3 0.7"/>
<rect x="254.05" y="305.80" width="1.10" height="6.20" fill="#7a2e89" />
<rect x="265.35" y="305.80" width="1.10" height="6.20" fill="#7a2e89" />
<rect x="271.75" y="305.80" width="1.10" height="6.20" fill="#7a2e89" />
<rect x="277.55" y="305.80" width="1.10" height="6.20" fill="#7a2e89" />
<rect x="282.95" y="305.80" width="1.10" height="6.20" fill="#7a2e89" />
<rect x="289.45" y="305.80" width="1.10" height="6.20" fill="#7a2e89" />
<rect x="291.95" y="305.80" width="1.10" height="6.20" fill="#7a2e89" />
<rect x="319.95" y="305.80" width="1.10" height="6.20" fill="#7a2e89" />
<rect x="358.45" y="305.80" width="1.10" height="6.20" fill="#7a2e89" />
<rect x="370.65" y="305.80" width="1.10" height="6.20" fill="#7a2e89" />
<rect x="385.75" y="305.80" width="1.10" height="6.20" fill="#7a2e89" />
<rect x="411.45" y="305.80" width="1.10" height="6.20" fill="#7a2e89" />
<rect x="414.65" y="305.80" width="1.10" height="6.20" fill="#7a2e89" />
<rect x="417.85" y="305.80" width="1.10" height="6.20" fill="#7a2e89" />
<rect x="432.35" y="305.80" width="1.10" height="6.20" fill="#7a2e89" />
<rect x="463.55" y="305.80" width="1.10" height="6.20" fill="#7a2e89" />
<rect x="468.35" y="305.80" width="1.10" height="6.20" fill="#7a2e89" />
<rect x="526.75" y="305.80" width="1.10" height="6.20" fill="#7a2e89" />
<rect x="528.05" y="305.80" width="1.10" height="6.20" fill="#7a2e89" />
<rect x="595.15" y="305.80" width="1.10" height="6.20" fill="#7a2e89" />
<rect x="642.45" y="305.80" width="1.10" height="6.20" fill="#7a2e89" />
<rect x="351.40" y="306.15" width="2.40" height="5.50" fill="#7a2e89" />
<path d="M352.60 306.74 L355.00 308.90 L352.60 311.06 Z" fill="#7a2e89"/>
<path d="M552.60 306.74 L555.00 308.90 L552.60 311.06 Z" fill="#7a2e89"/>
<text x="449.00" y="302.80" font-size="7" text-anchor="middle" fill="#222" stroke="#222" stroke-width="0.08" style="font-style:italic;" >CCDC171</text>
<line x1="101.75" y1="721.30" x2="187.30" y2="721.30" stroke="#7a2e89" stroke-width="1.0" />
<rect x="151.10" y="720.40" width="1.60" height="1.8" rx="0.8" fill="#7a2e89" opacity="0.9"/>
<rect x="168.80" y="720.40" width="1.60" height="1.8" rx="0.8" fill="#7a2e89" opacity="0.9"/>
<rect x="180.70" y="720.40" width="1.60" height="1.8" rx="0.8" fill="#7a2e89" opacity="0.9"/>
<line x1="189.70" y1="721.30" x2="303.80" y2="721.30" stroke="#7a2e89" stroke-width="1.0" />
<rect x="189.70" y="720.20" width="1.80" height="2.2" rx="0.8" fill="#7a2e89" opacity="0.9"/>
<rect x="204.30" y="720.20" width="5.80" height="2.2" rx="0.8" fill="#7a2e89" opacity="0.9"/>
<rect x="217.10" y="720.20" width="2.40" height="2.2" rx="0.8" fill="#7a2e89" opacity="0.9"/>
<rect x="221.80" y="720.20" width="3.50" height="2.2" rx="0.8" fill="#7a2e89" opacity="0.9"/>
<rect x="231.10" y="720.20" width="2.40" height="2.2" rx="0.8" fill="#7a2e89" opacity="0.9"/>
<rect x="235.20" y="720.20" width="7.00" height="2.2" rx="0.8" fill="#7a2e89" opacity="0.9"/>
<rect x="246.30" y="720.20" width="1.80" height="2.2" rx="0.8" fill="#7a2e89" opacity="0.9"/>
<rect x="251.00" y="720.20" width="4.00" height="2.2" rx="0.8" fill="#7a2e89" opacity="0.9"/>
<rect x="259.70" y="720.20" width="13.70" height="2.2" rx="0.8" fill="#7a2e89" opacity="0.9"/>
<rect x="287.40" y="720.20" width="3.00" height="2.2" rx="0.8" fill="#7a2e89" opacity="0.9"/>
<rect x="293.90" y="720.20" width="4.60" height="2.2" rx="0.8" fill="#7a2e89" opacity="0.9"/>
<path d="M303.6 721.2 L306.1 722.7 L334.2 722.7" stroke="#7a2e89" stroke-width="1.0" fill="none"/>
<rect x="306.10" y="721.60" width="5.30" height="2.2" rx="0.8" fill="#7a2e89" opacity="0.9"/>
<rect x="317.20" y="721.80" width="4.70" height="1.8" rx="0.8" fill="#7a2e89" opacity="0.9"/>
<rect x="323.50" y="721.90" width="1.00" height="1.6" rx="0.8" fill="#7a2e89" opacity="0.9"/>
<rect x="329.50" y="721.90" width="1.00" height="1.6" rx="0.8" fill="#7a2e89" opacity="0.9"/>
<path d="M369.3 720.8 L372.8 722.7 L397.4 722.7" stroke="#7a2e89" stroke-width="1.0" fill="none"/>
<rect x="369.30" y="719.90" width="2.70" height="1.8" rx="0.8" fill="#7a2e89" opacity="0.9"/>
<rect x="374.00" y="721.80" width="6.00" height="1.8" rx="0.8" fill="#7a2e89" opacity="0.8"/>
<rect x="381.00" y="721.90" width="16.40" height="1.6" rx="0.8" fill="#7a2e89" opacity="0.7"/>
<line x1="477.60" y1="721.30" x2="540.70" y2="721.30" stroke="#7a2e89" stroke-width="1.0" />
<rect x="477.60" y="720.30" width="1.70" height="2.0" rx="0.8" fill="#7a2e89" opacity="0.9"/>
<rect x="483.40" y="720.30" width="2.40" height="2.0" rx="0.8" fill="#7a2e89" opacity="0.9"/>
<rect x="515.50" y="720.30" width="8.20" height="2.0" rx="0.8" fill="#7a2e89" opacity="0.9"/>
<rect x="527.80" y="720.30" width="2.90" height="2.0" rx="0.8" fill="#7a2e89" opacity="0.9"/>
<rect x="534.20" y="720.30" width="6.50" height="2.0" rx="0.8" fill="#7a2e89" opacity="0.9"/>
<line x1="560.70" y1="721.10" x2="634.30" y2="721.10" stroke="#7a2e89" stroke-width="1.0" />
<rect x="560.70" y="720.00" width="1.90" height="2.2" rx="0.8" fill="#7a2e89" opacity="0.9"/>
<rect x="583.50" y="720.00" width="1.90" height="2.2" rx="0.8" fill="#7a2e89" opacity="0.9"/>
<rect x="587.30" y="720.00" width="1.90" height="2.2" rx="0.8" fill="#7a2e89" opacity="0.9"/>
<rect x="592.00" y="720.00" width="1.90" height="2.2" rx="0.8" fill="#7a2e89" opacity="0.9"/>
<rect x="597.70" y="720.00" width="2.80" height="2.2" rx="0.8" fill="#7a2e89" opacity="0.9"/>
<rect x="605.30" y="720.00" width="1.90" height="2.2" rx="0.8" fill="#7a2e89" opacity="0.9"/>
<rect x="613.80" y="720.00" width="1.90" height="2.2" rx="0.8" fill="#7a2e89" opacity="0.9"/>
<rect x="620.50" y="720.00" width="1.90" height="2.2" rx="0.8" fill="#7a2e89" opacity="0.9"/>
<rect x="629.00" y="720.00" width="3.80" height="2.2" rx="0.8" fill="#7a2e89" opacity="0.9"/>
<line x1="665.10" y1="721.20" x2="677.40" y2="721.20" stroke="#7a2e89" stroke-width="1.2" />
<text x="113.60" y="713.80" font-size="7" text-anchor="start" fill="#222" stroke="#222" stroke-width="0.08" style="font-style:italic;" >TMEM219</text>
<text x="213.90" y="713.80" font-size="7" text-anchor="start" fill="#222" stroke="#222" stroke-width="0.08" style="font-style:italic;" >TAOK2</text>
<text x="253.00" y="713.80" font-size="7" text-anchor="start" fill="#222" stroke="#222" stroke-width="0.08" style="font-style:italic;" >HIRIP3</text>
<text x="307.70" y="716.00" font-size="7" text-anchor="start" fill="#222" stroke="#222" stroke-width="0.08" style="font-style:italic;" >DOC2A</text>
<text x="277.00" y="736.20" font-size="7" text-anchor="start" fill="#222" stroke="#222" stroke-width="0.08" style="font-style:italic;" >INO80E</text>
<text x="366.20" y="714.35" font-size="7" text-anchor="start" fill="#222" stroke="#222" stroke-width="0.08" style="font-style:italic;" >C16orf92</text>
<text x="402.70" y="718.60" font-size="7" text-anchor="start" fill="#222" stroke="#222" stroke-width="0.08" style="font-style:italic;" >TLCD3B</text>
<text x="497.70" y="714.35" font-size="7" text-anchor="start" fill="#222" stroke="#222" stroke-width="0.08" style="font-style:italic;" >ALDOA</text>
<text x="567.00" y="714.50" font-size="7" text-anchor="start" fill="#222" stroke="#222" stroke-width="0.08" style="font-style:italic;" >PPP4C</text>
<text x="600.00" y="714.50" font-size="7" text-anchor="start" fill="#222" stroke="#222" stroke-width="0.08" style="font-style:italic;" >TBX6</text>
<text x="650.80" y="732.40" font-size="7" text-anchor="start" fill="#222" stroke="#222" stroke-width="0.08" style="font-style:italic;" >GDPD3</text>
<text transform="translate(619.6,713.8) scale(0.89,1)" x="0" y="0" font-size="9.7" fill="#e0272b" style="font-style:italic">YPEL3</text>
<line x1="237.40" y1="518.30" x2="237.40" y2="618.70" stroke="#3a3a3a" stroke-width="1" />
<line x1="237.40" y1="662.60" x2="237.40" y2="855.80" stroke="#3a3a3a" stroke-width="1" />
<line x1="299.60" y1="520.60" x2="299.60" y2="618.70" stroke="#3c3c3c" stroke-width="0.95" stroke-dasharray="0.8 2 2.6 2"/>
<line x1="299.60" y1="662.60" x2="299.60" y2="855.80" stroke="#3c3c3c" stroke-width="0.95" stroke-dasharray="0.8 2 2.6 2"/>
<line x1="241.40" y1="134.50" x2="241.40" y2="219.60" stroke="#3a3a3a" stroke-width="1" />
<line x1="241.40" y1="263.50" x2="241.40" y2="458.80" stroke="#3a3a3a" stroke-width="1" />
<line x1="330.50" y1="156.00" x2="330.50" y2="219.60" stroke="#3c3c3c" stroke-width="0.95" stroke-dasharray="0.8 2 2.6 2"/>
<line x1="330.50" y1="263.50" x2="330.50" y2="458.80" stroke="#3c3c3c" stroke-width="0.95" stroke-dasharray="0.8 2 2.6 2"/>
<circle cx="241.05" cy="167.60" r="1.6" fill="#b4d53a"/>
<circle cx="246.00" cy="167.60" r="1.6" fill="#b4d53a"/>
<circle cx="247.90" cy="167.60" r="1.6" fill="#b4d53a"/>
<circle cx="249.80" cy="167.60" r="1.6" fill="#b4d53a"/>
<circle cx="251.70" cy="167.60" r="1.6" fill="#b4d53a"/>
<circle cx="256.50" cy="167.60" r="1.6" fill="#b4d53a"/>
<circle cx="258.02" cy="167.60" r="1.6" fill="#b4d53a"/>
<circle cx="259.55" cy="167.60" r="1.6" fill="#b4d53a"/>
<circle cx="261.08" cy="167.60" r="1.6" fill="#b4d53a"/>
<circle cx="262.60" cy="167.60" r="1.6" fill="#b4d53a"/>
<circle cx="264.12" cy="167.60" r="1.6" fill="#b4d53a"/>
<circle cx="265.65" cy="167.60" r="1.6" fill="#b4d53a"/>
<circle cx="267.18" cy="167.60" r="1.6" fill="#b4d53a"/>
<circle cx="268.70" cy="167.60" r="1.6" fill="#b4d53a"/>
<circle cx="273.70" cy="167.60" r="1.6" fill="#b4d53a"/>
<circle cx="275.32" cy="167.60" r="1.6" fill="#b4d53a"/>
<circle cx="276.94" cy="167.60" r="1.6" fill="#b4d53a"/>
<circle cx="278.56" cy="167.60" r="1.6" fill="#b4d53a"/>
<circle cx="280.18" cy="167.60" r="1.6" fill="#b4d53a"/>
<circle cx="281.80" cy="167.60" r="1.6" fill="#b4d53a"/>
<circle cx="283.42" cy="167.60" r="1.6" fill="#b4d53a"/>
<circle cx="285.04" cy="167.60" r="1.6" fill="#b4d53a"/>
<circle cx="286.66" cy="167.60" r="1.6" fill="#b4d53a"/>
<circle cx="288.28" cy="167.60" r="1.6" fill="#b4d53a"/>
<circle cx="289.90" cy="167.60" r="1.6" fill="#b4d53a"/>
<circle cx="296.40" cy="167.60" r="1.6" fill="#b4d53a"/>
<circle cx="298.37" cy="167.60" r="1.6" fill="#b4d53a"/>
<circle cx="300.33" cy="167.60" r="1.6" fill="#b4d53a"/>
<circle cx="302.30" cy="167.60" r="1.6" fill="#b4d53a"/>
<circle cx="307.30" cy="167.60" r="1.6" fill="#b4d53a"/>
<circle cx="308.95" cy="167.60" r="1.6" fill="#b4d53a"/>
<circle cx="310.60" cy="167.60" r="1.6" fill="#b4d53a"/>
<circle cx="312.25" cy="167.60" r="1.6" fill="#b4d53a"/>
<circle cx="313.90" cy="167.60" r="1.6" fill="#b4d53a"/>
<circle cx="319.60" cy="167.60" r="1.6" fill="#b4d53a"/>
<circle cx="321.10" cy="167.60" r="1.6" fill="#b4d53a"/>
<circle cx="322.60" cy="167.60" r="1.6" fill="#b4d53a"/>
<circle cx="324.10" cy="167.60" r="1.6" fill="#b4d53a"/>
<circle cx="325.60" cy="167.60" r="1.6" fill="#b4d53a"/>
<circle cx="329.90" cy="167.60" r="1.6" fill="#b4d53a"/>
<circle cx="331.45" cy="167.60" r="1.6" fill="#b4d53a"/>
<circle cx="332.99" cy="167.60" r="1.6" fill="#b4d53a"/>
<circle cx="334.54" cy="167.60" r="1.6" fill="#b4d53a"/>
<circle cx="336.08" cy="167.60" r="1.6" fill="#b4d53a"/>
<circle cx="337.63" cy="167.60" r="1.6" fill="#b4d53a"/>
<circle cx="339.18" cy="167.60" r="1.6" fill="#b4d53a"/>
<circle cx="340.72" cy="167.60" r="1.6" fill="#b4d53a"/>
<circle cx="342.27" cy="167.60" r="1.6" fill="#b4d53a"/>
<circle cx="343.82" cy="167.60" r="1.6" fill="#b4d53a"/>
<circle cx="345.36" cy="167.60" r="1.6" fill="#b4d53a"/>
<circle cx="346.91" cy="167.60" r="1.6" fill="#b4d53a"/>
<circle cx="348.45" cy="167.60" r="1.6" fill="#b4d53a"/>
<circle cx="350.00" cy="167.60" r="1.6" fill="#b4d53a"/>
<circle cx="351.55" cy="167.60" r="1.6" fill="#b4d53a"/>
<circle cx="353.09" cy="167.60" r="1.6" fill="#b4d53a"/>
<circle cx="354.64" cy="167.60" r="1.6" fill="#b4d53a"/>
<circle cx="356.18" cy="167.60" r="1.6" fill="#b4d53a"/>
<circle cx="357.73" cy="167.60" r="1.6" fill="#b4d53a"/>
<circle cx="359.28" cy="167.60" r="1.6" fill="#b4d53a"/>
<circle cx="360.82" cy="167.60" r="1.6" fill="#b4d53a"/>
<circle cx="362.37" cy="167.60" r="1.6" fill="#b4d53a"/>
<circle cx="363.92" cy="167.60" r="1.6" fill="#b4d53a"/>
<circle cx="365.46" cy="167.60" r="1.6" fill="#b4d53a"/>
<circle cx="367.01" cy="167.60" r="1.6" fill="#b4d53a"/>
<circle cx="368.55" cy="167.60" r="1.6" fill="#b4d53a"/>
<circle cx="370.10" cy="167.60" r="1.6" fill="#b4d53a"/>
<circle cx="375.90" cy="167.60" r="1.6" fill="#b4d53a"/>
<circle cx="377.52" cy="167.60" r="1.6" fill="#b4d53a"/>
<circle cx="379.14" cy="167.60" r="1.6" fill="#b4d53a"/>
<circle cx="380.76" cy="167.60" r="1.6" fill="#b4d53a"/>
<circle cx="382.38" cy="167.60" r="1.6" fill="#b4d53a"/>
<circle cx="384.00" cy="167.60" r="1.6" fill="#b4d53a"/>
<circle cx="390.40" cy="167.60" r="1.6" fill="#b4d53a"/>
<circle cx="390.80" cy="167.60" r="1.6" fill="#b4d53a"/>
<circle cx="395.20" cy="167.60" r="1.6" fill="#b4d53a"/>
<circle cx="396.87" cy="167.60" r="1.6" fill="#b4d53a"/>
<circle cx="398.54" cy="167.60" r="1.6" fill="#b4d53a"/>
<circle cx="400.21" cy="167.60" r="1.6" fill="#b4d53a"/>
<circle cx="401.89" cy="167.60" r="1.6" fill="#b4d53a"/>
<circle cx="403.56" cy="167.60" r="1.6" fill="#b4d53a"/>
<circle cx="405.23" cy="167.60" r="1.6" fill="#b4d53a"/>
<circle cx="406.90" cy="167.60" r="1.6" fill="#b4d53a"/>
<circle cx="410.50" cy="167.60" r="1.6" fill="#b4d53a"/>
<circle cx="412.20" cy="167.60" r="1.6" fill="#b4d53a"/>
<circle cx="413.90" cy="167.60" r="1.6" fill="#b4d53a"/>
<circle cx="415.60" cy="167.60" r="1.6" fill="#b4d53a"/>
<circle cx="417.30" cy="167.60" r="1.6" fill="#b4d53a"/>
<circle cx="422.55" cy="167.60" r="1.6" fill="#b4d53a"/>
<circle cx="441.00" cy="167.60" r="1.6" fill="#b4d53a"/>
<circle cx="442.56" cy="167.60" r="1.6" fill="#b4d53a"/>
<circle cx="444.12" cy="167.60" r="1.6" fill="#b4d53a"/>
<circle cx="445.69" cy="167.60" r="1.6" fill="#b4d53a"/>
<circle cx="447.25" cy="167.60" r="1.6" fill="#b4d53a"/>
<circle cx="448.81" cy="167.60" r="1.6" fill="#b4d53a"/>
<circle cx="450.38" cy="167.60" r="1.6" fill="#b4d53a"/>
<circle cx="451.94" cy="167.60" r="1.6" fill="#b4d53a"/>
<circle cx="453.50" cy="167.60" r="1.6" fill="#b4d53a"/>
<circle cx="459.50" cy="167.60" r="1.6" fill="#b4d53a"/>
<circle cx="461.00" cy="167.60" r="1.6" fill="#b4d53a"/>
<circle cx="462.50" cy="167.60" r="1.6" fill="#b4d53a"/>
<circle cx="464.00" cy="167.60" r="1.6" fill="#b4d53a"/>
<circle cx="465.50" cy="167.60" r="1.6" fill="#b4d53a"/>
<circle cx="467.00" cy="167.60" r="1.6" fill="#b4d53a"/>
<circle cx="468.50" cy="167.60" r="1.6" fill="#b4d53a"/>
<circle cx="470.00" cy="167.60" r="1.6" fill="#b4d53a"/>
<circle cx="471.50" cy="167.60" r="1.6" fill="#b4d53a"/>
<circle cx="473.00" cy="167.60" r="1.6" fill="#b4d53a"/>
<circle cx="474.50" cy="167.60" r="1.6" fill="#b4d53a"/>
<circle cx="476.00" cy="167.60" r="1.6" fill="#b4d53a"/>
<circle cx="477.50" cy="167.60" r="1.6" fill="#b4d53a"/>
<circle cx="479.00" cy="167.60" r="1.6" fill="#b4d53a"/>
<circle cx="480.50" cy="167.60" r="1.6" fill="#b4d53a"/>
<circle cx="482.00" cy="167.60" r="1.6" fill="#b4d53a"/>
<circle cx="483.50" cy="167.60" r="1.6" fill="#b4d53a"/>
<circle cx="485.00" cy="167.60" r="1.6" fill="#b4d53a"/>
<circle cx="486.50" cy="167.60" r="1.6" fill="#b4d53a"/>
<circle cx="488.00" cy="167.60" r="1.6" fill="#b4d53a"/>
<circle cx="536.70" cy="167.60" r="1.6" fill="#b4d53a"/>
<circle cx="545.70" cy="167.60" r="1.6" fill="#b4d53a"/>
<circle cx="547.60" cy="167.60" r="1.6" fill="#b4d53a"/>
<circle cx="554.40" cy="167.60" r="1.6" fill="#b4d53a"/>
<circle cx="562.60" cy="167.60" r="1.6" fill="#b4d53a"/>
<circle cx="564.40" cy="167.60" r="1.6" fill="#b4d53a"/>
<circle cx="566.20" cy="167.60" r="1.6" fill="#b4d53a"/>
<circle cx="571.40" cy="167.60" r="1.6" fill="#b4d53a"/>
<circle cx="573.02" cy="167.60" r="1.6" fill="#b4d53a"/>
<circle cx="574.65" cy="167.60" r="1.6" fill="#b4d53a"/>
<circle cx="576.27" cy="167.60" r="1.6" fill="#b4d53a"/>
<circle cx="577.90" cy="167.60" r="1.6" fill="#b4d53a"/>
<circle cx="585.40" cy="167.60" r="1.6" fill="#b4d53a"/>
<circle cx="587.50" cy="167.60" r="1.6" fill="#b4d53a"/>
<circle cx="589.60" cy="167.60" r="1.6" fill="#b4d53a"/>
<circle cx="245.42" cy="135.89" r="1.6" fill="#dc2a2e"/>
<circle cx="246.81" cy="135.83" r="1.6" fill="#dc2a2e"/>
<circle cx="247.75" cy="136.74" r="1.6" fill="#dc2a2e"/>
<circle cx="248.33" cy="137.25" r="1.6" fill="#dc2a2e"/>
<circle cx="249.37" cy="137.20" r="1.6" fill="#dc2a2e"/>
<circle cx="250.46" cy="136.45" r="1.6" fill="#dc2a2e"/>
<circle cx="251.87" cy="138.51" r="1.6" fill="#dc2a2e"/>
<circle cx="252.62" cy="137.08" r="1.6" fill="#dc2a2e"/>
<circle cx="266.63" cy="146.06" r="1.6" fill="#dc2a2e"/>
<circle cx="270.08" cy="144.63" r="1.6" fill="#dc2a2e"/>
<circle cx="274.48" cy="146.62" r="1.6" fill="#dc2a2e"/>
<circle cx="276.46" cy="147.25" r="1.6" fill="#dc2a2e"/>
<circle cx="277.84" cy="146.81" r="1.6" fill="#dc2a2e"/>
<circle cx="281.51" cy="148.02" r="1.6" fill="#dc2a2e"/>
<circle cx="283.68" cy="144.51" r="1.6" fill="#dc2a2e"/>
<circle cx="286.54" cy="145.07" r="1.6" fill="#dc2a2e"/>
<circle cx="289.05" cy="144.26" r="1.6" fill="#dc2a2e"/>
<circle cx="291.16" cy="144.64" r="1.6" fill="#dc2a2e"/>
<circle cx="302.88" cy="146.00" r="1.6" fill="#dc2a2e"/>
<circle cx="306.61" cy="149.72" r="1.6" fill="#dc2a2e"/>
<circle cx="308.80" cy="148.40" r="1.6" fill="#dc2a2e"/>
<circle cx="311.19" cy="148.87" r="1.6" fill="#dc2a2e"/>
<circle cx="312.69" cy="147.97" r="1.6" fill="#dc2a2e"/>
<circle cx="315.03" cy="148.18" r="1.6" fill="#dc2a2e"/>
<circle cx="310.23" cy="146.65" r="1.6" fill="#dc2a2e"/>
<circle cx="315.78" cy="146.21" r="1.6" fill="#dc2a2e"/>
<circle cx="319.22" cy="144.37" r="1.6" fill="#dc2a2e"/>
<circle cx="321.32" cy="143.67" r="1.6" fill="#dc2a2e"/>
<circle cx="323.57" cy="144.14" r="1.6" fill="#dc2a2e"/>
<circle cx="326.66" cy="143.89" r="1.6" fill="#dc2a2e"/>
<circle cx="329.08" cy="143.22" r="1.6" fill="#dc2a2e"/>
<circle cx="330.85" cy="144.33" r="1.6" fill="#dc2a2e"/>
<circle cx="332.68" cy="144.35" r="1.6" fill="#dc2a2e"/>
<circle cx="334.89" cy="146.01" r="1.6" fill="#dc2a2e"/>
<circle cx="336.47" cy="145.66" r="1.6" fill="#dc2a2e"/>
<circle cx="338.01" cy="146.14" r="1.6" fill="#dc2a2e"/>
<circle cx="340.55" cy="147.28" r="1.6" fill="#dc2a2e"/>
<circle cx="343.02" cy="142.44" r="1.6" fill="#dc2a2e"/>
<circle cx="344.89" cy="145.44" r="1.6" fill="#dc2a2e"/>
<circle cx="346.92" cy="146.50" r="1.6" fill="#dc2a2e"/>
<circle cx="349.00" cy="145.20" r="1.6" fill="#dc2a2e"/>
<circle cx="350.83" cy="146.50" r="1.6" fill="#dc2a2e"/>
<circle cx="352.83" cy="144.74" r="1.6" fill="#dc2a2e"/>
<circle cx="354.89" cy="144.67" r="1.6" fill="#dc2a2e"/>
<circle cx="356.31" cy="144.73" r="1.6" fill="#dc2a2e"/>
<circle cx="358.52" cy="147.03" r="1.6" fill="#dc2a2e"/>
<circle cx="360.52" cy="148.15" r="1.6" fill="#dc2a2e"/>
<circle cx="365.28" cy="144.78" r="1.6" fill="#dc2a2e"/>
<circle cx="367.96" cy="146.00" r="1.6" fill="#dc2a2e"/>
<circle cx="371.16" cy="144.09" r="1.6" fill="#dc2a2e"/>
<circle cx="378.58" cy="144.30" r="1.6" fill="#dc2a2e"/>
<circle cx="383.03" cy="147.20" r="1.6" fill="#dc2a2e"/>
<circle cx="396.19" cy="143.50" r="1.6" fill="#dc2a2e"/>
<circle cx="399.70" cy="144.09" r="1.6" fill="#dc2a2e"/>
<circle cx="401.82" cy="144.47" r="1.6" fill="#dc2a2e"/>
<circle cx="404.15" cy="144.80" r="1.6" fill="#dc2a2e"/>
<circle cx="396.12" cy="150.10" r="1.6" fill="#dc2a2e"/>
<circle cx="406.18" cy="150.50" r="1.6" fill="#dc2a2e"/>
<circle cx="409.40" cy="146.60" r="1.6" fill="#dc2a2e"/>
<circle cx="412.27" cy="146.17" r="1.6" fill="#dc2a2e"/>
<circle cx="413.93" cy="145.94" r="1.6" fill="#dc2a2e"/>
<circle cx="415.77" cy="147.35" r="1.6" fill="#dc2a2e"/>
<circle cx="417.86" cy="146.68" r="1.6" fill="#dc2a2e"/>
<circle cx="440.71" cy="150.50" r="1.6" fill="#dc2a2e"/>
<circle cx="453.74" cy="151.90" r="1.6" fill="#dc2a2e"/>
<circle cx="459.20" cy="146.00" r="1.6" fill="#dc2a2e"/>
<circle cx="462.80" cy="145.65" r="1.6" fill="#dc2a2e"/>
<circle cx="464.53" cy="151.07" r="1.6" fill="#dc2a2e"/>
<circle cx="465.61" cy="144.49" r="1.6" fill="#dc2a2e"/>
<circle cx="467.00" cy="147.05" r="1.6" fill="#dc2a2e"/>
<circle cx="468.86" cy="148.52" r="1.6" fill="#dc2a2e"/>
<circle cx="471.75" cy="144.30" r="1.6" fill="#dc2a2e"/>
<circle cx="474.27" cy="146.56" r="1.6" fill="#dc2a2e"/>
<circle cx="475.34" cy="147.17" r="1.6" fill="#dc2a2e"/>
<circle cx="477.04" cy="149.19" r="1.6" fill="#dc2a2e"/>
<circle cx="478.98" cy="150.52" r="1.6" fill="#dc2a2e"/>
<circle cx="479.62" cy="154.17" r="1.6" fill="#dc2a2e"/>
<circle cx="481.93" cy="143.98" r="1.6" fill="#dc2a2e"/>
<circle cx="483.48" cy="144.04" r="1.6" fill="#dc2a2e"/>
<circle cx="484.99" cy="146.88" r="1.6" fill="#dc2a2e"/>
<circle cx="486.86" cy="146.51" r="1.6" fill="#dc2a2e"/>
<circle cx="488.06" cy="149.00" r="1.6" fill="#dc2a2e"/>
<circle cx="536.37" cy="147.80" r="1.6" fill="#dc2a2e"/>
<circle cx="544.93" cy="148.83" r="1.6" fill="#dc2a2e"/>
<circle cx="546.48" cy="147.38" r="1.6" fill="#dc2a2e"/>
<circle cx="548.71" cy="149.36" r="1.6" fill="#dc2a2e"/>
<circle cx="555.15" cy="146.60" r="1.6" fill="#dc2a2e"/>
<circle cx="562.72" cy="145.80" r="1.6" fill="#dc2a2e"/>
<circle cx="565.03" cy="147.25" r="1.6" fill="#dc2a2e"/>
<circle cx="566.86" cy="147.18" r="1.6" fill="#dc2a2e"/>
<circle cx="573.33" cy="146.30" r="1.6" fill="#dc2a2e"/>
<circle cx="577.86" cy="148.40" r="1.6" fill="#dc2a2e"/>
<circle cx="585.56" cy="148.76" r="1.6" fill="#dc2a2e"/>
<circle cx="587.30" cy="150.37" r="1.6" fill="#dc2a2e"/>
<circle cx="589.09" cy="148.95" r="1.6" fill="#dc2a2e"/>
<circle cx="590.12" cy="148.79" r="1.6" fill="#dc2a2e"/>
<circle cx="255.70" cy="157.53" r="1.6" fill="#dc2a2e"/>
<circle cx="258.00" cy="159.46" r="1.6" fill="#dc2a2e"/>
<circle cx="260.10" cy="158.49" r="1.6" fill="#dc2a2e"/>
<circle cx="261.79" cy="159.44" r="1.6" fill="#dc2a2e"/>
<circle cx="263.10" cy="159.20" r="1.6" fill="#dc2a2e"/>
<circle cx="265.81" cy="159.63" r="1.6" fill="#dc2a2e"/>
<circle cx="268.55" cy="154.80" r="1.6" fill="#dc2a2e"/>
<circle cx="273.18" cy="155.85" r="1.6" fill="#dc2a2e"/>
<circle cx="275.30" cy="156.28" r="1.6" fill="#dc2a2e"/>
<circle cx="277.90" cy="155.63" r="1.6" fill="#dc2a2e"/>
<circle cx="279.30" cy="157.46" r="1.6" fill="#dc2a2e"/>
<circle cx="283.12" cy="153.94" r="1.6" fill="#dc2a2e"/>
<circle cx="284.28" cy="154.74" r="1.6" fill="#dc2a2e"/>
<circle cx="286.80" cy="157.30" r="1.6" fill="#dc2a2e"/>
<circle cx="295.35" cy="157.35" r="1.6" fill="#dc2a2e"/>
<circle cx="297.81" cy="157.78" r="1.6" fill="#dc2a2e"/>
<circle cx="298.80" cy="158.38" r="1.6" fill="#dc2a2e"/>
<circle cx="300.21" cy="157.86" r="1.6" fill="#dc2a2e"/>
<circle cx="302.67" cy="160.39" r="1.6" fill="#dc2a2e"/>
<circle cx="308.63" cy="157.63" r="1.6" fill="#dc2a2e"/>
<circle cx="310.13" cy="157.77" r="1.6" fill="#dc2a2e"/>
<circle cx="312.13" cy="156.35" r="1.6" fill="#dc2a2e"/>
<circle cx="313.15" cy="156.86" r="1.6" fill="#dc2a2e"/>
<circle cx="314.74" cy="157.92" r="1.6" fill="#dc2a2e"/>
<circle cx="318.56" cy="154.59" r="1.6" fill="#dc2a2e"/>
<circle cx="320.18" cy="156.44" r="1.6" fill="#dc2a2e"/>
<circle cx="322.15" cy="155.84" r="1.6" fill="#dc2a2e"/>
<circle cx="324.13" cy="157.58" r="1.6" fill="#dc2a2e"/>
<circle cx="325.72" cy="158.19" r="1.6" fill="#dc2a2e"/>
<circle cx="332.20" cy="153.68" r="1.6" fill="#dc2a2e"/>
<circle cx="333.77" cy="153.23" r="1.6" fill="#dc2a2e"/>
<circle cx="335.24" cy="154.54" r="1.6" fill="#dc2a2e"/>
<circle cx="336.35" cy="157.03" r="1.6" fill="#dc2a2e"/>
<circle cx="338.07" cy="157.06" r="1.6" fill="#dc2a2e"/>
<circle cx="340.18" cy="158.16" r="1.6" fill="#dc2a2e"/>
<circle cx="341.33" cy="158.95" r="1.6" fill="#dc2a2e"/>
<circle cx="344.56" cy="155.54" r="1.6" fill="#dc2a2e"/>
<circle cx="346.24" cy="156.12" r="1.6" fill="#dc2a2e"/>
<circle cx="348.52" cy="156.55" r="1.6" fill="#dc2a2e"/>
<circle cx="351.17" cy="158.32" r="1.6" fill="#dc2a2e"/>
<circle cx="354.46" cy="158.90" r="1.6" fill="#dc2a2e"/>
<circle cx="359.41" cy="156.35" r="1.6" fill="#dc2a2e"/>
<circle cx="360.88" cy="157.31" r="1.6" fill="#dc2a2e"/>
<circle cx="362.55" cy="158.60" r="1.6" fill="#dc2a2e"/>
<circle cx="364.25" cy="158.99" r="1.6" fill="#dc2a2e"/>
<circle cx="370.08" cy="157.10" r="1.6" fill="#dc2a2e"/>
<circle cx="376.20" cy="153.00" r="1.6" fill="#dc2a2e"/>
<circle cx="379.94" cy="154.77" r="1.6" fill="#dc2a2e"/>
<circle cx="381.69" cy="157.92" r="1.6" fill="#dc2a2e"/>
<circle cx="384.11" cy="157.19" r="1.6" fill="#dc2a2e"/>
<circle cx="385.52" cy="159.35" r="1.6" fill="#dc2a2e"/>
<circle cx="384.57" cy="155.83" r="1.6" fill="#dc2a2e"/>
<circle cx="387.07" cy="156.69" r="1.6" fill="#dc2a2e"/>
<circle cx="390.28" cy="157.03" r="1.6" fill="#dc2a2e"/>
<circle cx="390.45" cy="154.20" r="1.6" fill="#dc2a2e"/>
<circle cx="389.86" cy="154.47" r="1.6" fill="#dc2a2e"/>
<circle cx="391.61" cy="156.97" r="1.6" fill="#dc2a2e"/>
<circle cx="392.47" cy="157.28" r="1.6" fill="#dc2a2e"/>
<circle cx="394.17" cy="156.43" r="1.6" fill="#dc2a2e"/>
<circle cx="396.28" cy="157.68" r="1.6" fill="#dc2a2e"/>
<circle cx="396.98" cy="156.99" r="1.6" fill="#dc2a2e"/>
<circle cx="398.85" cy="157.10" r="1.6" fill="#dc2a2e"/>
<circle cx="400.06" cy="157.41" r="1.6" fill="#dc2a2e"/>
<circle cx="402.11" cy="156.98" r="1.6" fill="#dc2a2e"/>
<circle cx="403.46" cy="158.43" r="1.6" fill="#dc2a2e"/>
<circle cx="404.45" cy="158.50" r="1.6" fill="#dc2a2e"/>
<circle cx="406.58" cy="159.32" r="1.6" fill="#dc2a2e"/>
<circle cx="407.54" cy="160.91" r="1.6" fill="#dc2a2e"/>
<circle cx="409.79" cy="161.23" r="1.6" fill="#dc2a2e"/>
<circle cx="422.00" cy="159.50" r="1.6" fill="#dc2a2e"/>
<circle cx="442.34" cy="157.90" r="1.6" fill="#dc2a2e"/>
<circle cx="447.77" cy="157.34" r="1.6" fill="#dc2a2e"/>
<circle cx="449.89" cy="159.77" r="1.6" fill="#dc2a2e"/>
<circle cx="452.25" cy="158.47" r="1.6" fill="#dc2a2e"/>
<circle cx="453.55" cy="160.59" r="1.6" fill="#dc2a2e"/>
<circle cx="445.77" cy="164.10" r="1.6" fill="#dc2a2e"/>
<circle cx="444.19" cy="169.10" r="1.6" fill="#dc2a2e"/>
<circle cx="459.89" cy="157.70" r="1.6" fill="#dc2a2e"/>
<circle cx="454.57" cy="151.90" r="1.6" fill="#dc2a2e"/>
<circle cx="571.23" cy="158.30" r="1.6" fill="#dc2a2e"/>
<circle cx="574.18" cy="159.83" r="1.6" fill="#dc2a2e"/>
<circle cx="575.67" cy="160.39" r="1.6" fill="#dc2a2e"/>
<circle cx="577.55" cy="159.58" r="1.6" fill="#dc2a2e"/>
<circle cx="245.42" cy="182.77" r="1.6" fill="#5cbcdb"/>
<circle cx="246.81" cy="183.02" r="1.6" fill="#5cbcdb"/>
<circle cx="247.75" cy="183.19" r="1.6" fill="#5cbcdb"/>
<circle cx="248.33" cy="183.47" r="1.6" fill="#5cbcdb"/>
<circle cx="249.37" cy="183.75" r="1.6" fill="#5cbcdb"/>
<circle cx="250.46" cy="182.95" r="1.6" fill="#5cbcdb"/>
<circle cx="251.87" cy="184.43" r="1.6" fill="#5cbcdb"/>
<circle cx="252.62" cy="183.37" r="1.6" fill="#5cbcdb"/>
<circle cx="266.63" cy="190.20" r="1.6" fill="#5cbcdb"/>
<circle cx="270.08" cy="189.22" r="1.6" fill="#5cbcdb"/>
<circle cx="274.48" cy="190.84" r="1.6" fill="#5cbcdb"/>
<circle cx="276.46" cy="191.32" r="1.6" fill="#5cbcdb"/>
<circle cx="277.84" cy="191.34" r="1.6" fill="#5cbcdb"/>
<circle cx="281.51" cy="191.90" r="1.6" fill="#5cbcdb"/>
<circle cx="283.68" cy="189.36" r="1.6" fill="#5cbcdb"/>
<circle cx="286.54" cy="189.53" r="1.6" fill="#5cbcdb"/>
<circle cx="289.05" cy="189.05" r="1.6" fill="#5cbcdb"/>
<circle cx="291.16" cy="189.07" r="1.6" fill="#5cbcdb"/>
<circle cx="302.88" cy="190.31" r="1.6" fill="#5cbcdb"/>
<circle cx="306.61" cy="192.99" r="1.6" fill="#5cbcdb"/>
<circle cx="308.80" cy="192.55" r="1.6" fill="#5cbcdb"/>
<circle cx="311.19" cy="192.76" r="1.6" fill="#5cbcdb"/>
<circle cx="312.69" cy="191.78" r="1.6" fill="#5cbcdb"/>
<circle cx="315.03" cy="192.16" r="1.6" fill="#5cbcdb"/>
<circle cx="310.23" cy="191.36" r="1.6" fill="#5cbcdb"/>
<circle cx="315.78" cy="190.35" r="1.6" fill="#5cbcdb"/>
<circle cx="319.22" cy="189.51" r="1.6" fill="#5cbcdb"/>
<circle cx="321.32" cy="188.66" r="1.6" fill="#5cbcdb"/>
<circle cx="323.57" cy="189.07" r="1.6" fill="#5cbcdb"/>
<circle cx="326.66" cy="189.15" r="1.6" fill="#5cbcdb"/>
<circle cx="329.08" cy="188.28" r="1.6" fill="#5cbcdb"/>
<circle cx="330.85" cy="189.23" r="1.6" fill="#5cbcdb"/>
<circle cx="332.68" cy="189.39" r="1.6" fill="#5cbcdb"/>
<circle cx="334.89" cy="190.90" r="1.6" fill="#5cbcdb"/>
<circle cx="336.47" cy="190.12" r="1.6" fill="#5cbcdb"/>
<circle cx="338.01" cy="190.88" r="1.6" fill="#5cbcdb"/>
<circle cx="340.55" cy="191.66" r="1.6" fill="#5cbcdb"/>
<circle cx="343.02" cy="187.88" r="1.6" fill="#5cbcdb"/>
<circle cx="344.89" cy="190.00" r="1.6" fill="#5cbcdb"/>
<circle cx="346.92" cy="190.77" r="1.6" fill="#5cbcdb"/>
<circle cx="349.00" cy="189.54" r="1.6" fill="#5cbcdb"/>
<circle cx="350.83" cy="190.60" r="1.6" fill="#5cbcdb"/>
<circle cx="352.83" cy="189.20" r="1.6" fill="#5cbcdb"/>
<circle cx="354.89" cy="189.67" r="1.6" fill="#5cbcdb"/>
<circle cx="356.31" cy="189.34" r="1.6" fill="#5cbcdb"/>
<circle cx="358.52" cy="191.03" r="1.6" fill="#5cbcdb"/>
<circle cx="360.52" cy="191.83" r="1.6" fill="#5cbcdb"/>
<circle cx="365.28" cy="189.84" r="1.6" fill="#5cbcdb"/>
<circle cx="367.96" cy="190.80" r="1.6" fill="#5cbcdb"/>
<circle cx="371.16" cy="189.18" r="1.6" fill="#5cbcdb"/>
<circle cx="378.58" cy="189.03" r="1.6" fill="#5cbcdb"/>
<circle cx="383.03" cy="191.23" r="1.6" fill="#5cbcdb"/>
<circle cx="396.19" cy="188.42" r="1.6" fill="#5cbcdb"/>
<circle cx="399.70" cy="189.01" r="1.6" fill="#5cbcdb"/>
<circle cx="401.82" cy="189.06" r="1.6" fill="#5cbcdb"/>
<circle cx="404.15" cy="189.54" r="1.6" fill="#5cbcdb"/>
<circle cx="396.12" cy="193.48" r="1.6" fill="#5cbcdb"/>
<circle cx="406.18" cy="194.34" r="1.6" fill="#5cbcdb"/>
<circle cx="409.40" cy="191.35" r="1.6" fill="#5cbcdb"/>
<circle cx="412.27" cy="190.68" r="1.6" fill="#5cbcdb"/>
<circle cx="413.93" cy="190.26" r="1.6" fill="#5cbcdb"/>
<circle cx="415.77" cy="191.92" r="1.6" fill="#5cbcdb"/>
<circle cx="417.86" cy="190.88" r="1.6" fill="#5cbcdb"/>
<circle cx="440.71" cy="193.86" r="1.6" fill="#5cbcdb"/>
<circle cx="453.74" cy="194.65" r="1.6" fill="#5cbcdb"/>
<circle cx="459.20" cy="190.41" r="1.6" fill="#5cbcdb"/>
<circle cx="462.80" cy="190.22" r="1.6" fill="#5cbcdb"/>
<circle cx="464.53" cy="194.42" r="1.6" fill="#5cbcdb"/>
<circle cx="465.61" cy="189.10" r="1.6" fill="#5cbcdb"/>
<circle cx="467.00" cy="191.32" r="1.6" fill="#5cbcdb"/>
<circle cx="468.86" cy="192.05" r="1.6" fill="#5cbcdb"/>
<circle cx="471.75" cy="189.01" r="1.6" fill="#5cbcdb"/>
<circle cx="474.27" cy="190.61" r="1.6" fill="#5cbcdb"/>
<circle cx="475.34" cy="191.33" r="1.6" fill="#5cbcdb"/>
<circle cx="477.04" cy="192.60" r="1.6" fill="#5cbcdb"/>
<circle cx="478.98" cy="193.61" r="1.6" fill="#5cbcdb"/>
<circle cx="479.62" cy="196.65" r="1.6" fill="#5cbcdb"/>
<circle cx="481.93" cy="188.74" r="1.6" fill="#5cbcdb"/>
<circle cx="483.48" cy="189.07" r="1.6" fill="#5cbcdb"/>
<circle cx="484.99" cy="191.21" r="1.6" fill="#5cbcdb"/>
<circle cx="486.86" cy="191.10" r="1.6" fill="#5cbcdb"/>
<circle cx="488.06" cy="192.95" r="1.6" fill="#5cbcdb"/>
<circle cx="536.37" cy="192.07" r="1.6" fill="#5cbcdb"/>
<circle cx="544.93" cy="192.99" r="1.6" fill="#5cbcdb"/>
<circle cx="546.48" cy="191.48" r="1.6" fill="#5cbcdb"/>
<circle cx="548.71" cy="192.96" r="1.6" fill="#5cbcdb"/>
<circle cx="555.15" cy="191.36" r="1.6" fill="#5cbcdb"/>
<circle cx="562.72" cy="190.07" r="1.6" fill="#5cbcdb"/>
<circle cx="565.03" cy="191.65" r="1.6" fill="#5cbcdb"/>
<circle cx="566.86" cy="191.53" r="1.6" fill="#5cbcdb"/>
<circle cx="573.33" cy="190.38" r="1.6" fill="#5cbcdb"/>
<circle cx="577.86" cy="192.63" r="1.6" fill="#5cbcdb"/>
<circle cx="585.56" cy="192.95" r="1.6" fill="#5cbcdb"/>
<circle cx="587.30" cy="193.97" r="1.6" fill="#5cbcdb"/>
<circle cx="589.09" cy="192.97" r="1.6" fill="#5cbcdb"/>
<circle cx="590.12" cy="192.91" r="1.6" fill="#5cbcdb"/>
<circle cx="255.70" cy="199.10" r="1.6" fill="#5cbcdb"/>
<circle cx="258.00" cy="200.89" r="1.6" fill="#5cbcdb"/>
<circle cx="260.10" cy="200.13" r="1.6" fill="#5cbcdb"/>
<circle cx="261.79" cy="201.13" r="1.6" fill="#5cbcdb"/>
<circle cx="263.10" cy="200.91" r="1.6" fill="#5cbcdb"/>
<circle cx="265.81" cy="201.27" r="1.6" fill="#5cbcdb"/>
<circle cx="268.55" cy="197.35" r="1.6" fill="#5cbcdb"/>
<circle cx="273.18" cy="198.41" r="1.6" fill="#5cbcdb"/>
<circle cx="275.30" cy="198.57" r="1.6" fill="#5cbcdb"/>
<circle cx="277.90" cy="198.08" r="1.6" fill="#5cbcdb"/>
<circle cx="279.30" cy="199.12" r="1.6" fill="#5cbcdb"/>
<circle cx="283.12" cy="196.25" r="1.6" fill="#5cbcdb"/>
<circle cx="284.28" cy="196.95" r="1.6" fill="#5cbcdb"/>
<circle cx="286.80" cy="199.10" r="1.6" fill="#5cbcdb"/>
<circle cx="295.35" cy="198.93" r="1.6" fill="#5cbcdb"/>
<circle cx="297.81" cy="199.85" r="1.6" fill="#5cbcdb"/>
<circle cx="298.80" cy="200.09" r="1.6" fill="#5cbcdb"/>
<circle cx="300.21" cy="199.74" r="1.6" fill="#5cbcdb"/>
<circle cx="302.67" cy="201.69" r="1.6" fill="#5cbcdb"/>
<circle cx="308.63" cy="199.61" r="1.6" fill="#5cbcdb"/>
<circle cx="310.13" cy="199.56" r="1.6" fill="#5cbcdb"/>
<circle cx="312.13" cy="198.08" r="1.6" fill="#5cbcdb"/>
<circle cx="313.15" cy="199.11" r="1.6" fill="#5cbcdb"/>
<circle cx="314.74" cy="199.89" r="1.6" fill="#5cbcdb"/>
<circle cx="318.56" cy="197.13" r="1.6" fill="#5cbcdb"/>
<circle cx="320.18" cy="198.58" r="1.6" fill="#5cbcdb"/>
<circle cx="322.15" cy="198.21" r="1.6" fill="#5cbcdb"/>
<circle cx="324.13" cy="199.08" r="1.6" fill="#5cbcdb"/>
<circle cx="325.72" cy="200.08" r="1.6" fill="#5cbcdb"/>
<circle cx="332.20" cy="196.23" r="1.6" fill="#5cbcdb"/>
<circle cx="333.77" cy="195.74" r="1.6" fill="#5cbcdb"/>
<circle cx="335.24" cy="196.90" r="1.6" fill="#5cbcdb"/>
<circle cx="336.35" cy="199.18" r="1.6" fill="#5cbcdb"/>
<circle cx="338.07" cy="198.79" r="1.6" fill="#5cbcdb"/>
<circle cx="340.18" cy="200.07" r="1.6" fill="#5cbcdb"/>
<circle cx="341.33" cy="200.86" r="1.6" fill="#5cbcdb"/>
<circle cx="344.56" cy="197.85" r="1.6" fill="#5cbcdb"/>
<circle cx="346.24" cy="198.21" r="1.6" fill="#5cbcdb"/>
<circle cx="348.52" cy="198.62" r="1.6" fill="#5cbcdb"/>
<circle cx="351.17" cy="200.14" r="1.6" fill="#5cbcdb"/>
<circle cx="354.46" cy="200.66" r="1.6" fill="#5cbcdb"/>
<circle cx="359.41" cy="198.57" r="1.6" fill="#5cbcdb"/>
<circle cx="360.88" cy="199.34" r="1.6" fill="#5cbcdb"/>
<circle cx="362.55" cy="199.87" r="1.6" fill="#5cbcdb"/>
<circle cx="364.25" cy="200.23" r="1.6" fill="#5cbcdb"/>
<circle cx="370.08" cy="198.86" r="1.6" fill="#5cbcdb"/>
<circle cx="376.20" cy="196.09" r="1.6" fill="#5cbcdb"/>
<circle cx="379.94" cy="197.11" r="1.6" fill="#5cbcdb"/>
<circle cx="381.69" cy="199.74" r="1.6" fill="#5cbcdb"/>
<circle cx="384.11" cy="198.74" r="1.6" fill="#5cbcdb"/>
<circle cx="385.52" cy="200.44" r="1.6" fill="#5cbcdb"/>
<circle cx="384.57" cy="197.89" r="1.6" fill="#5cbcdb"/>
<circle cx="387.07" cy="198.88" r="1.6" fill="#5cbcdb"/>
<circle cx="390.28" cy="199.16" r="1.6" fill="#5cbcdb"/>
<circle cx="390.45" cy="196.96" r="1.6" fill="#5cbcdb"/>
<circle cx="389.86" cy="196.86" r="1.6" fill="#5cbcdb"/>
<circle cx="391.61" cy="198.97" r="1.6" fill="#5cbcdb"/>
<circle cx="392.47" cy="199.17" r="1.6" fill="#5cbcdb"/>
<circle cx="394.17" cy="198.51" r="1.6" fill="#5cbcdb"/>
<circle cx="396.28" cy="199.20" r="1.6" fill="#5cbcdb"/>
<circle cx="396.98" cy="199.29" r="1.6" fill="#5cbcdb"/>
<circle cx="398.85" cy="198.82" r="1.6" fill="#5cbcdb"/>
<circle cx="400.06" cy="199.67" r="1.6" fill="#5cbcdb"/>
<circle cx="402.11" cy="199.31" r="1.6" fill="#5cbcdb"/>
<circle cx="403.46" cy="199.69" r="1.6" fill="#5cbcdb"/>
<circle cx="404.45" cy="200.10" r="1.6" fill="#5cbcdb"/>
<circle cx="406.58" cy="201.02" r="1.6" fill="#5cbcdb"/>
<circle cx="407.54" cy="202.36" r="1.6" fill="#5cbcdb"/>
<circle cx="409.79" cy="202.19" r="1.6" fill="#5cbcdb"/>
<circle cx="422.00" cy="200.72" r="1.6" fill="#5cbcdb"/>
<circle cx="442.34" cy="199.44" r="1.6" fill="#5cbcdb"/>
<circle cx="447.77" cy="199.59" r="1.6" fill="#5cbcdb"/>
<circle cx="449.89" cy="200.88" r="1.6" fill="#5cbcdb"/>
<circle cx="452.25" cy="200.18" r="1.6" fill="#5cbcdb"/>
<circle cx="453.55" cy="201.46" r="1.6" fill="#5cbcdb"/>
<circle cx="445.77" cy="204.47" r="1.6" fill="#5cbcdb"/>
<circle cx="444.19" cy="208.66" r="1.6" fill="#5cbcdb"/>
<circle cx="459.89" cy="199.22" r="1.6" fill="#5cbcdb"/>
<circle cx="454.57" cy="195.31" r="1.6" fill="#5cbcdb"/>
<circle cx="571.23" cy="199.99" r="1.6" fill="#5cbcdb"/>
<circle cx="574.18" cy="201.46" r="1.6" fill="#5cbcdb"/>
<circle cx="575.67" cy="201.75" r="1.6" fill="#5cbcdb"/>
<circle cx="577.55" cy="200.75" r="1.6" fill="#5cbcdb"/>
<circle cx="240.30" cy="135.50" r="1.45" fill="#dc2a2e"/>
<circle cx="241.00" cy="180.70" r="1.5" fill="#5cbcdb"/>
<circle cx="241.40" cy="167.60" r="1.45" fill="#b4d53a"/>
<circle cx="138.10" cy="519.30" r="1.75" fill="#dc2a2e"/>
<circle cx="138.10" cy="564.00" r="1.75" fill="#b4d53a"/>
<circle cx="138.10" cy="571.90" r="1.75" fill="#5cbcdb"/>
<circle cx="228.50" cy="518.30" r="1.75" fill="#dc2a2e"/>
<circle cx="228.50" cy="564.00" r="1.75" fill="#b4d53a"/>
<circle cx="228.50" cy="572.20" r="1.75" fill="#5cbcdb"/>
<circle cx="237.40" cy="564.00" r="1.75" fill="#b4d53a"/>
<circle cx="237.40" cy="572.20" r="1.75" fill="#5cbcdb"/>
<circle cx="275.20" cy="518.30" r="1.75" fill="#dc2a2e"/>
<circle cx="275.20" cy="564.00" r="1.75" fill="#b4d53a"/>
<circle cx="275.20" cy="572.20" r="1.75" fill="#5cbcdb"/>
<circle cx="291.20" cy="517.90" r="1.75" fill="#dc2a2e"/>
<circle cx="291.20" cy="564.00" r="1.75" fill="#b4d53a"/>
<circle cx="291.20" cy="572.20" r="1.75" fill="#5cbcdb"/>
<circle cx="300.30" cy="517.70" r="1.75" fill="#dc2a2e"/>
<circle cx="300.30" cy="564.00" r="1.75" fill="#b4d53a"/>
<circle cx="300.30" cy="572.20" r="1.75" fill="#5cbcdb"/>
<circle cx="299.80" cy="520.20" r="1.75" fill="#dc2a2e"/>
<circle cx="299.80" cy="564.00" r="1.75" fill="#b4d53a"/>
<circle cx="299.80" cy="573.40" r="1.75" fill="#5cbcdb"/>
<circle cx="302.40" cy="520.70" r="1.75" fill="#dc2a2e"/>
<circle cx="302.40" cy="564.00" r="1.75" fill="#b4d53a"/>
<circle cx="302.40" cy="573.20" r="1.75" fill="#5cbcdb"/>
<circle cx="313.00" cy="518.40" r="1.75" fill="#dc2a2e"/>
<circle cx="313.00" cy="564.00" r="1.75" fill="#b4d53a"/>
<circle cx="313.00" cy="572.20" r="1.75" fill="#5cbcdb"/>
<circle cx="314.90" cy="518.40" r="1.75" fill="#dc2a2e"/>
<circle cx="314.90" cy="564.00" r="1.75" fill="#b4d53a"/>
<circle cx="314.90" cy="572.40" r="1.75" fill="#5cbcdb"/>
<path d="M237.40 515.90 L239.80 518.30 L237.40 520.70 L235.00 518.30 Z" fill="#c01d21" stroke="#3a1010" stroke-width="0.7"/>
<path d="M299.30 518.70 L301.60 521.00 L299.30 523.30 L297.00 521.00 Z" fill="#b02226" stroke="#3a1010" stroke-width="0.7"/>
<path d="M241.40 131.90 L243.80 134.30 L241.40 136.70 L239.00 134.30 Z" fill="#c01d21" stroke="#3a1010" stroke-width="0.7"/>
<path d="M330.40 153.80 L332.60 156.00 L330.40 158.20 L328.20 156.00 Z" fill="#c42428" stroke="#3a1010" stroke-width="0.7"/>
</svg></body></html>
